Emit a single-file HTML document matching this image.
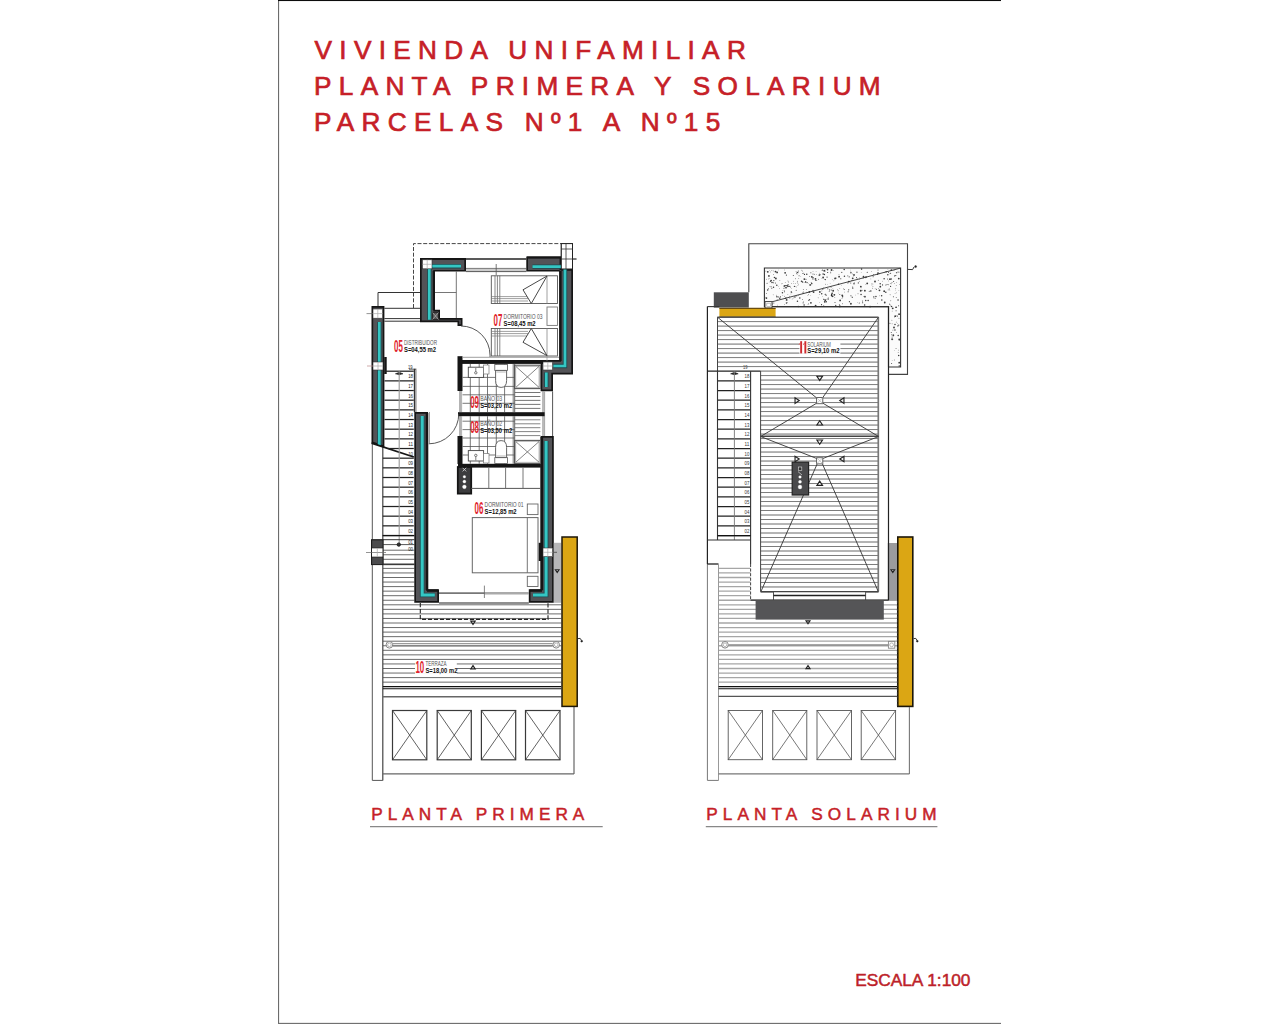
<!DOCTYPE html>
<html><head><meta charset="utf-8"><title>Planta primera y solarium</title>
<style>
html,body{margin:0;padding:0;background:#fff;}
body{width:1280px;height:1024px;overflow:hidden;position:relative;font-family:"Liberation Sans",sans-serif;}
svg{position:absolute;left:0;top:0;display:block;}
text{font-family:"Liberation Sans",sans-serif;}
</style></head><body>
<svg width="1280" height="1024" viewBox="0 0 1280 1024">
<rect x="0" y="0" width="1280" height="1024" fill="#fff" stroke="none" stroke-width="1"/>
<g id="frame">
<rect x="278" y="1" width="1.1" height="1023" fill="#6c6c6c" stroke="none" stroke-width="1"/>
<rect x="278" y="0" width="723" height="1.05" fill="#0c0c0c" stroke="none" stroke-width="1"/>
<rect x="278" y="1022.85" width="723" height="1.15" fill="#707070" stroke="none" stroke-width="1"/>
</g>
<g id="titles" fill="#c61f28">
<text x="314.6" y="58.6" font-size="26.2" fill="#c61f28" letter-spacing="7.3" stroke="#c61f28" stroke-width="0.7">VIVIENDA UNIFAMILIAR</text>
<text x="314" y="94.9" font-size="26.2" fill="#c61f28" letter-spacing="7.3" stroke="#c61f28" stroke-width="0.7">PLANTA PRIMERA Y SOLARIUM</text>
<text x="314" y="131.2" font-size="26.2" fill="#c61f28" letter-spacing="7.3" stroke="#c61f28" stroke-width="0.7">PARCELAS N&#186;1 A N&#186;15</text>
<text x="371.2" y="819.6" font-size="17.2" fill="#c61f28" letter-spacing="5.03" stroke="#c61f28" stroke-width="0.5">PLANTA PRIMERA</text>
<text x="706.3" y="819.6" font-size="17.2" fill="#c61f28" letter-spacing="5.08" stroke="#c61f28" stroke-width="0.5">PLANTA SOLARIUM</text>
<text x="855.2" y="986.3" font-size="17.3" fill="#bd1f29" stroke="#bd1f29" stroke-width="0.5">ESCALA 1:100</text>
</g>
<line x1="370" y1="826.7" x2="602.7" y2="826.7" stroke="#888" stroke-width="1.2"/>
<line x1="705.8" y1="826.7" x2="937.4" y2="826.7" stroke="#888" stroke-width="1.2"/>
<g id="planta-primera">
<line x1="383" y1="550.2" x2="414.4" y2="550.2" stroke="#6c6c6c" stroke-width="1"/>
<line x1="383" y1="554.75" x2="414.4" y2="554.75" stroke="#6c6c6c" stroke-width="1"/>
<line x1="383" y1="559.3" x2="414.4" y2="559.3" stroke="#6c6c6c" stroke-width="1"/>
<line x1="383" y1="563.85" x2="414.4" y2="563.85" stroke="#6c6c6c" stroke-width="1"/>
<line x1="383" y1="568.4" x2="414.4" y2="568.4" stroke="#6c6c6c" stroke-width="1"/>
<line x1="383" y1="572.95" x2="414.4" y2="572.95" stroke="#6c6c6c" stroke-width="1"/>
<line x1="383" y1="577.5" x2="414.4" y2="577.5" stroke="#6c6c6c" stroke-width="1"/>
<line x1="383" y1="582.05" x2="414.4" y2="582.05" stroke="#6c6c6c" stroke-width="1"/>
<line x1="383" y1="586.6" x2="414.4" y2="586.6" stroke="#6c6c6c" stroke-width="1"/>
<line x1="383" y1="591.15" x2="414.4" y2="591.15" stroke="#6c6c6c" stroke-width="1"/>
<line x1="383" y1="595.7" x2="414.4" y2="595.7" stroke="#6c6c6c" stroke-width="1"/>
<line x1="383" y1="600.25" x2="414.4" y2="600.25" stroke="#6c6c6c" stroke-width="1"/>
<line x1="383" y1="604.8" x2="561.3" y2="604.8" stroke="#6c6c6c" stroke-width="1"/>
<line x1="383" y1="609.35" x2="561.3" y2="609.35" stroke="#6c6c6c" stroke-width="1"/>
<line x1="383" y1="613.9" x2="561.3" y2="613.9" stroke="#6c6c6c" stroke-width="1"/>
<line x1="383" y1="618.45" x2="561.3" y2="618.45" stroke="#6c6c6c" stroke-width="1"/>
<line x1="383" y1="623" x2="561.3" y2="623" stroke="#6c6c6c" stroke-width="1"/>
<line x1="383" y1="627.55" x2="561.3" y2="627.55" stroke="#6c6c6c" stroke-width="1"/>
<line x1="383" y1="632.1" x2="561.3" y2="632.1" stroke="#6c6c6c" stroke-width="1"/>
<line x1="383" y1="636.65" x2="561.3" y2="636.65" stroke="#6c6c6c" stroke-width="1"/>
<line x1="383" y1="641.2" x2="561.3" y2="641.2" stroke="#6c6c6c" stroke-width="1"/>
<line x1="383" y1="645.75" x2="561.3" y2="645.75" stroke="#6c6c6c" stroke-width="1"/>
<line x1="383" y1="650.3" x2="561.3" y2="650.3" stroke="#6c6c6c" stroke-width="1"/>
<line x1="383" y1="654.85" x2="561.3" y2="654.85" stroke="#6c6c6c" stroke-width="1"/>
<line x1="383" y1="659.4" x2="561.3" y2="659.4" stroke="#6c6c6c" stroke-width="1"/>
<line x1="383" y1="663.95" x2="561.3" y2="663.95" stroke="#6c6c6c" stroke-width="1"/>
<line x1="383" y1="668.5" x2="561.3" y2="668.5" stroke="#6c6c6c" stroke-width="1"/>
<line x1="383" y1="673.05" x2="561.3" y2="673.05" stroke="#6c6c6c" stroke-width="1"/>
<line x1="383" y1="677.6" x2="561.3" y2="677.6" stroke="#6c6c6c" stroke-width="1"/>
<line x1="383" y1="682.15" x2="561.3" y2="682.15" stroke="#6c6c6c" stroke-width="1"/>
<line x1="372.3" y1="443" x2="372.3" y2="780.4" stroke="#555" stroke-width="1"/>
<line x1="382.8" y1="447" x2="382.8" y2="780.4" stroke="#444" stroke-width="1.2"/>
<line x1="372.3" y1="780.4" x2="382.8" y2="780.4" stroke="#555" stroke-width="1"/>
<line x1="382.8" y1="686.6" x2="561.3" y2="686.6" stroke="#111" stroke-width="1.3"/>
<line x1="382.8" y1="688.7" x2="561.3" y2="688.7" stroke="#111" stroke-width="1.1"/>
<line x1="382.8" y1="696.8" x2="561.5" y2="696.8" stroke="#666" stroke-width="1.6"/>
<line x1="382.8" y1="773.9" x2="574" y2="773.9" stroke="#666" stroke-width="1.3"/>
<line x1="574" y1="707" x2="574" y2="773.9" stroke="#666" stroke-width="1.2"/>
<rect x="392.5" y="710.5" width="34.3" height="49.3" fill="none" stroke="#3a3a3a" stroke-width="1.2"/>
<line x1="392.5" y1="710.5" x2="426.8" y2="759.8" stroke="#3a3a3a" stroke-width="0.8"/>
<line x1="392.5" y1="759.8" x2="426.8" y2="710.5" stroke="#3a3a3a" stroke-width="0.8"/>
<rect x="437.2" y="710.5" width="34.1" height="49.3" fill="none" stroke="#3a3a3a" stroke-width="1.2"/>
<line x1="437.2" y1="710.5" x2="471.3" y2="759.8" stroke="#3a3a3a" stroke-width="0.8"/>
<line x1="437.2" y1="759.8" x2="471.3" y2="710.5" stroke="#3a3a3a" stroke-width="0.8"/>
<rect x="481.4" y="710.5" width="34.3" height="49.3" fill="none" stroke="#3a3a3a" stroke-width="1.2"/>
<line x1="481.4" y1="710.5" x2="515.7" y2="759.8" stroke="#3a3a3a" stroke-width="0.8"/>
<line x1="481.4" y1="759.8" x2="515.7" y2="710.5" stroke="#3a3a3a" stroke-width="0.8"/>
<rect x="525.5" y="710.5" width="34.5" height="49.3" fill="none" stroke="#3a3a3a" stroke-width="1.2"/>
<line x1="525.5" y1="710.5" x2="560" y2="759.8" stroke="#3a3a3a" stroke-width="0.8"/>
<line x1="525.5" y1="759.8" x2="560" y2="710.5" stroke="#3a3a3a" stroke-width="0.8"/>
<path d="M413.5,308 L413.5,243.6 L561,243.6" fill="none" stroke="#3c3c3c" stroke-width="0.95" stroke-dasharray="4 1.7"/>
<rect x="561.3" y="243.6" width="11.2" height="25.4" fill="#fff" stroke="#222" stroke-width="1"/>
<line x1="566" y1="243.6" x2="566" y2="269" stroke="#333" stroke-width="0.8"/>
<line x1="561.3" y1="249" x2="572.5" y2="249" stroke="#333" stroke-width="0.8"/>
<line x1="561.3" y1="259" x2="576.5" y2="259" stroke="#333" stroke-width="0.8"/>
<line x1="378" y1="292.5" x2="420" y2="292.5" stroke="#333" stroke-width="1"/>
<line x1="378" y1="292.5" x2="378" y2="306" stroke="#333" stroke-width="1"/>
<line x1="384.4" y1="308.3" x2="420" y2="308.3" stroke="#333" stroke-width="1"/>
<line x1="384.4" y1="318.6" x2="420" y2="318.6" stroke="#333" stroke-width="1"/>
<line x1="384.4" y1="321.2" x2="420" y2="321.2" stroke="#333" stroke-width="1"/>
<line x1="466" y1="259" x2="526.3" y2="259" stroke="#222" stroke-width="1.4"/>
<line x1="466" y1="268.4" x2="526.3" y2="268.4" stroke="#777" stroke-width="1"/>
<line x1="466" y1="270" x2="526.3" y2="270" stroke="#999" stroke-width="1"/>
<line x1="466" y1="271.6" x2="526.3" y2="271.6" stroke="#555" stroke-width="1"/>
<line x1="496.2" y1="264" x2="496.2" y2="275" stroke="#555" stroke-width="0.8"/>
<line x1="456.3" y1="271.6" x2="456.3" y2="318.5" stroke="#666" stroke-width="0.9"/>
<line x1="435" y1="292.5" x2="456.3" y2="292.5" stroke="#666" stroke-width="0.9"/>
<path d="M420,258 L466,258 L466,271.6 L435,271.6 L435,309.8 L440,309.8 L440,318 L462.5,318 L462.5,326 L457.5,326 L457.5,322.3 L420,322.3 Z" fill="#151515" stroke="none" stroke-width="1"/>
<path d="M421.7,259.7 L464.3,259.7 L464.3,269.9 L433.3,269.9 L433.3,311.5 L438.3,311.5 L438.3,319.7 L460.8,319.7 L460.8,324.3 L459.2,324.3 L459.2,320.6 L421.7,320.6 Z" fill="#535357" stroke="none" stroke-width="1"/>
<line x1="433.8" y1="271" x2="433.8" y2="310" stroke="#151515" stroke-width="2.2"/>
<line x1="421" y1="259" x2="465" y2="259" stroke="#151515" stroke-width="2"/>
<path d="M461,266.2 L429.3,266.2 L429.3,319.8" fill="none" stroke="#1d4a50" stroke-width="4.4" stroke-linejoin="miter"/>
<path d="M461,266.2 L429.3,266.2 L429.3,319.8" fill="none" stroke="#34c6c3" stroke-width="2.7" stroke-linejoin="miter"/>
<rect x="422.5" y="259.8" width="9.5" height="9" fill="#fff" stroke="#333" stroke-width="0.6"/>
<line x1="427.2" y1="259.8" x2="427.2" y2="268.8" stroke="#aaa" stroke-width="0.7"/>
<line x1="422.5" y1="264.3" x2="432" y2="264.3" stroke="#aaa" stroke-width="0.7"/>
<rect x="432.5" y="312.5" width="6" height="7" fill="#555" stroke="#111" stroke-width="0.6"/>
<line x1="432.5" y1="312.5" x2="438.5" y2="319.5" stroke="#ccc" stroke-width="0.6"/>
<line x1="438.5" y1="312.5" x2="432.5" y2="319.5" stroke="#ccc" stroke-width="0.6"/>
<path d="M526.3,256.6 L561.3,256.6 L561.3,269 L573,269 L573,374.4 L553,374.4 L553,391.3 L540.6,391.3 L540.6,360 L559.4,360 L559.4,271.6 L526.3,271.6 Z" fill="#151515" stroke="none" stroke-width="1"/>
<path d="M528,258.3 L559.6,258.3 L559.6,270.7 L571.3,270.7 L571.3,372.7 L551.3,372.7 L551.3,389.6 L542.3,389.6 L542.3,361.7 L561.1,361.7 L561.1,269.9 L528,269.9 Z" fill="#535357" stroke="none" stroke-width="1"/>
<line x1="560.4" y1="271" x2="560.4" y2="361" stroke="#151515" stroke-width="2.4"/>
<line x1="527" y1="257.6" x2="561" y2="257.6" stroke="#151515" stroke-width="2"/>
<path d="M532.5,266.6 L565,266.6 L565,366 L553.4,366" fill="none" stroke="#1d4a50" stroke-width="4.4" stroke-linejoin="miter"/>
<path d="M532.5,266.6 L565,266.6 L565,366 L553.4,366" fill="none" stroke="#34c6c3" stroke-width="2.7" stroke-linejoin="miter"/>
<path d="M546.3,372.5 L546.3,387" fill="none" stroke="#1d4a50" stroke-width="4.4" stroke-linejoin="miter"/>
<path d="M546.3,372.5 L546.3,387" fill="none" stroke="#34c6c3" stroke-width="2.7" stroke-linejoin="miter"/>
<rect x="561.3" y="243.6" width="11.2" height="25.4" fill="#fff" stroke="#222" stroke-width="1"/>
<line x1="566" y1="243.6" x2="566" y2="269" stroke="#333" stroke-width="0.8"/>
<line x1="561.3" y1="249" x2="572.5" y2="249" stroke="#333" stroke-width="0.8"/>
<line x1="561.3" y1="259" x2="576.5" y2="259" stroke="#333" stroke-width="0.8"/>
<rect x="543" y="362" width="9.5" height="8" fill="#fff" stroke="#333" stroke-width="0.6"/>
<line x1="547.8" y1="362" x2="547.8" y2="370" stroke="#aaa" stroke-width="0.7"/>
<line x1="543" y1="366" x2="552.5" y2="366" stroke="#aaa" stroke-width="0.7"/>
<line x1="543" y1="391.3" x2="543" y2="436" stroke="#666" stroke-width="0.9"/>
<line x1="544.6" y1="391.3" x2="544.6" y2="436" stroke="#999" stroke-width="0.9"/>
<line x1="552.6" y1="391.3" x2="552.6" y2="436" stroke="#555" stroke-width="1"/>
<path d="M371.5,306 L384.4,306 L384.4,447.5 L371.5,443 Z" fill="#151515" stroke="none" stroke-width="1"/>
<path d="M373.2,307.7 L382.7,307.7 L382.7,445.11 L373.2,441.79 Z" fill="#535357" stroke="none" stroke-width="1"/>
<rect x="384.2" y="357" width="2.5" height="17" fill="#151515" stroke="none" stroke-width="1"/>
<path d="M379.3,322 L379.3,445.3" fill="none" stroke="#1d4a50" stroke-width="4.4" stroke-linejoin="miter"/>
<path d="M379.3,322 L379.3,445.3" fill="none" stroke="#34c6c3" stroke-width="2.7" stroke-linejoin="miter"/>
<rect x="373" y="309" width="9.6" height="9.2" fill="#fff" stroke="#333" stroke-width="0.6"/>
<line x1="377.8" y1="309" x2="377.8" y2="318.2" stroke="#aaa" stroke-width="0.7"/>
<line x1="373" y1="313.6" x2="382.6" y2="313.6" stroke="#aaa" stroke-width="0.7"/>
<line x1="366.5" y1="313.6" x2="373" y2="313.6" stroke="#666" stroke-width="0.7"/>
<rect x="373" y="362" width="10" height="8" fill="#fff" stroke="#333" stroke-width="0.6"/>
<line x1="378" y1="362" x2="378" y2="370" stroke="#aaa" stroke-width="0.7"/>
<line x1="373" y1="366" x2="383" y2="366" stroke="#aaa" stroke-width="0.7"/>
<line x1="367" y1="366" x2="373" y2="366" stroke="#b88" stroke-width="0.7"/>
<line x1="371.5" y1="443.2" x2="413.8" y2="457" stroke="#151515" stroke-width="1.8"/>
<line x1="384.5" y1="371.2" x2="413.8" y2="371.2" stroke="#222" stroke-width="1.25"/>
<line x1="384.5" y1="380.87" x2="413.8" y2="380.87" stroke="#222" stroke-width="1.25"/>
<line x1="384.5" y1="390.53" x2="413.8" y2="390.53" stroke="#222" stroke-width="1.25"/>
<line x1="384.5" y1="400.19" x2="413.8" y2="400.19" stroke="#222" stroke-width="1.25"/>
<line x1="384.5" y1="409.86" x2="413.8" y2="409.86" stroke="#222" stroke-width="1.25"/>
<line x1="384.5" y1="419.52" x2="413.8" y2="419.52" stroke="#222" stroke-width="1.25"/>
<line x1="384.5" y1="429.19" x2="413.8" y2="429.19" stroke="#222" stroke-width="1.25"/>
<line x1="384.5" y1="438.86" x2="413.8" y2="438.86" stroke="#222" stroke-width="1.25"/>
<line x1="387.82" y1="448.52" x2="413.8" y2="448.52" stroke="#222" stroke-width="1.25"/>
<line x1="382.8" y1="458.18" x2="413.8" y2="458.18" stroke="#222" stroke-width="1.25"/>
<line x1="382.8" y1="467.85" x2="413.8" y2="467.85" stroke="#222" stroke-width="1.25"/>
<line x1="382.8" y1="477.51" x2="413.8" y2="477.51" stroke="#222" stroke-width="1.25"/>
<line x1="382.8" y1="487.18" x2="413.8" y2="487.18" stroke="#222" stroke-width="1.25"/>
<line x1="382.8" y1="496.84" x2="413.8" y2="496.84" stroke="#222" stroke-width="1.25"/>
<line x1="382.8" y1="506.51" x2="413.8" y2="506.51" stroke="#222" stroke-width="1.25"/>
<line x1="382.8" y1="516.17" x2="413.8" y2="516.17" stroke="#222" stroke-width="1.25"/>
<line x1="382.8" y1="525.84" x2="413.8" y2="525.84" stroke="#222" stroke-width="1.25"/>
<line x1="382.8" y1="535.5" x2="413.8" y2="535.5" stroke="#222" stroke-width="1.25"/>
<line x1="399.2" y1="371.2" x2="399.2" y2="544.6" stroke="#999" stroke-width="1.1"/>
<path d="M395.4,373.8 L398.6,372.6 L398.6,374.6 Z M403,373.8 L399.8,372.6 L399.8,374.6 Z" fill="#222" stroke="#222" stroke-width="0.6"/>
<line x1="414.6" y1="368.8" x2="414.6" y2="412" stroke="#333" stroke-width="1.6"/>
<line x1="416" y1="370" x2="416" y2="412" stroke="#999" stroke-width="1.2"/>
<line x1="409" y1="369.2" x2="416.5" y2="369.2" stroke="#333" stroke-width="0.8"/>
<line x1="382.8" y1="535.6" x2="414.4" y2="535.6" stroke="#111" stroke-width="1.4"/>
<line x1="382.8" y1="539.7" x2="414.4" y2="539.7" stroke="#333" stroke-width="1"/>
<line x1="383" y1="544.6" x2="414.4" y2="544.6" stroke="#555" stroke-width="1"/>
<circle cx="398.8" cy="544.6" r="1.7" fill="#333" stroke="#111" stroke-width="0.8"/>
<text x="412.6" y="369.4" font-size="5.6" fill="#333" textLength="4.6" lengthAdjust="spacingAndGlyphs" text-anchor="end">19</text>
<text x="413" y="378.4" font-size="5.8" fill="#222" textLength="4.8" lengthAdjust="spacingAndGlyphs" text-anchor="end">18</text>
<text x="413" y="388.06" font-size="5.8" fill="#222" textLength="4.8" lengthAdjust="spacingAndGlyphs" text-anchor="end">17</text>
<text x="413" y="397.73" font-size="5.8" fill="#222" textLength="4.8" lengthAdjust="spacingAndGlyphs" text-anchor="end">16</text>
<text x="413" y="407.39" font-size="5.8" fill="#222" textLength="4.8" lengthAdjust="spacingAndGlyphs" text-anchor="end">15</text>
<text x="413" y="417.06" font-size="5.8" fill="#222" textLength="4.8" lengthAdjust="spacingAndGlyphs" text-anchor="end">14</text>
<text x="413" y="426.72" font-size="5.8" fill="#222" textLength="4.8" lengthAdjust="spacingAndGlyphs" text-anchor="end">13</text>
<text x="413" y="436.39" font-size="5.8" fill="#222" textLength="4.8" lengthAdjust="spacingAndGlyphs" text-anchor="end">12</text>
<text x="413" y="446.05" font-size="5.8" fill="#222" textLength="4.8" lengthAdjust="spacingAndGlyphs" text-anchor="end">11</text>
<text x="413" y="455.72" font-size="5.8" fill="#222" textLength="4.8" lengthAdjust="spacingAndGlyphs" text-anchor="end">10</text>
<text x="413" y="465.38" font-size="5.8" fill="#222" textLength="4.8" lengthAdjust="spacingAndGlyphs" text-anchor="end">09</text>
<text x="413" y="475.05" font-size="5.8" fill="#222" textLength="4.8" lengthAdjust="spacingAndGlyphs" text-anchor="end">08</text>
<text x="413" y="484.71" font-size="5.8" fill="#222" textLength="4.8" lengthAdjust="spacingAndGlyphs" text-anchor="end">07</text>
<text x="413" y="494.38" font-size="5.8" fill="#222" textLength="4.8" lengthAdjust="spacingAndGlyphs" text-anchor="end">06</text>
<text x="413" y="504.04" font-size="5.8" fill="#222" textLength="4.8" lengthAdjust="spacingAndGlyphs" text-anchor="end">05</text>
<text x="413" y="513.71" font-size="5.8" fill="#222" textLength="4.8" lengthAdjust="spacingAndGlyphs" text-anchor="end">04</text>
<text x="413" y="523.38" font-size="5.8" fill="#222" textLength="4.8" lengthAdjust="spacingAndGlyphs" text-anchor="end">03</text>
<text x="413" y="533.04" font-size="5.8" fill="#222" textLength="4.8" lengthAdjust="spacingAndGlyphs" text-anchor="end">02</text>
<text x="413" y="543.8" font-size="5.8" fill="#222" textLength="4.8" lengthAdjust="spacingAndGlyphs" text-anchor="end">01</text>
<text x="413" y="550.9" font-size="5.8" fill="#222" textLength="4.8" lengthAdjust="spacingAndGlyphs" text-anchor="end">00</text>
<rect x="371.5" y="539.7" width="11.5" height="24.9" fill="#fff" stroke="#222" stroke-width="1"/>
<rect x="371.8" y="540" width="11" height="8" fill="#4c4c4e" stroke="#111" stroke-width="0.6"/>
<rect x="371.8" y="557" width="11" height="7.4" fill="#4c4c4e" stroke="#111" stroke-width="0.6"/>
<line x1="366" y1="552.5" x2="386" y2="552.5" stroke="#666" stroke-width="0.7"/>
<line x1="377.3" y1="548" x2="377.3" y2="557" stroke="#aaa" stroke-width="0.7"/>
<line x1="383" y1="564.6" x2="414.4" y2="564.6" stroke="#333" stroke-width="1.1"/>
<path d="M414.3,412 L428,412 L428,589.2 L439,589.2 L439,602.8 L414.3,602.8 Z" fill="#151515" stroke="none" stroke-width="1"/>
<path d="M416,413.7 L426.3,413.7 L426.3,590.9 L437.3,590.9 L437.3,601.1 L416,601.1 Z" fill="#535357" stroke="none" stroke-width="1"/>
<line x1="427" y1="413" x2="427" y2="590" stroke="#151515" stroke-width="2.6"/>
<line x1="427" y1="590.6" x2="438" y2="590.6" stroke="#151515" stroke-width="2.4"/>
<path d="M422.2,416 L422.2,595 L434.8,595" fill="none" stroke="#1d4a50" stroke-width="4.7" stroke-linejoin="miter"/>
<path d="M422.2,416 L422.2,595 L434.8,595" fill="none" stroke="#34c6c3" stroke-width="3" stroke-linejoin="miter"/>
<path d="M540.6,436 L553.8,436 L553.8,602.8 L528.8,602.8 L528.8,589.2 L540.6,589.2 Z" fill="#151515" stroke="none" stroke-width="1"/>
<path d="M542.3,437.7 L552.1,437.7 L552.1,601.1 L530.5,601.1 L530.5,590.9 L542.3,590.9 Z" fill="#535357" stroke="none" stroke-width="1"/>
<line x1="541.8" y1="437" x2="541.8" y2="590" stroke="#151515" stroke-width="2.6"/>
<line x1="529.8" y1="590.6" x2="542" y2="590.6" stroke="#151515" stroke-width="2.4"/>
<path d="M546.1,441 L546.1,595 L533,595" fill="none" stroke="#1d4a50" stroke-width="4.7" stroke-linejoin="miter"/>
<path d="M546.1,441 L546.1,595 L533,595" fill="none" stroke="#34c6c3" stroke-width="3" stroke-linejoin="miter"/>
<rect x="538.6" y="542.8" width="2.6" height="18.2" fill="#151515" stroke="none" stroke-width="1"/>
<rect x="543" y="548" width="9.6" height="8.6" fill="#fff" stroke="#333" stroke-width="0.6"/>
<line x1="547.8" y1="548" x2="547.8" y2="556.6" stroke="#aaa" stroke-width="0.7"/>
<line x1="543" y1="552.3" x2="552.6" y2="552.3" stroke="#aaa" stroke-width="0.7"/>
<rect x="553.8" y="542.8" width="7.5" height="60" fill="#b6b6b8" stroke="none" stroke-width="1"/>
<line x1="553.8" y1="552.3" x2="557" y2="552.3" stroke="#333" stroke-width="0.7"/>
<path d="M555.4,569.74 L559,569.74 L557.2,572.44 Z" fill="#f4f4f4" stroke="#222" stroke-width="1.15"/>
<rect x="562" y="537" width="15.2" height="169.4" fill="#dba614" stroke="#1c1608" stroke-width="1.5"/>
<path d="M578,638.6 L580.2,638.4 L581.4,640.4" fill="none" stroke="#222" stroke-width="0.9"/>
<circle cx="581.7" cy="641.2" r="0.9" fill="#222" stroke="#222" stroke-width="0.5"/>
<rect x="458" y="360" width="85" height="3.9" fill="#151515" stroke="none" stroke-width="1"/>
<rect x="457.5" y="356.2" width="5" height="34.8" fill="#151515" stroke="none" stroke-width="1"/>
<line x1="460" y1="391" x2="460" y2="412" stroke="#555" stroke-width="0.9"/>
<line x1="461.6" y1="391" x2="461.6" y2="412" stroke="#999" stroke-width="0.8"/>
<rect x="458" y="412.2" width="86.6" height="4" fill="#151515" stroke="none" stroke-width="1"/>
<line x1="460" y1="416" x2="460" y2="436" stroke="#555" stroke-width="0.9"/>
<line x1="461.6" y1="416" x2="461.6" y2="436" stroke="#999" stroke-width="0.8"/>
<rect x="457.5" y="436" width="5" height="28" fill="#151515" stroke="none" stroke-width="1"/>
<rect x="458" y="463.8" width="82.8" height="3.8" fill="#151515" stroke="none" stroke-width="1"/>
<line x1="462.5" y1="357.3" x2="559" y2="357.3" stroke="#888" stroke-width="0.8"/>
<line x1="470.3" y1="364" x2="470.3" y2="412" stroke="#555" stroke-width="0.8"/>
<line x1="470.3" y1="416.2" x2="470.3" y2="463.8" stroke="#555" stroke-width="0.8"/>
<line x1="479.2" y1="364" x2="479.2" y2="412" stroke="#555" stroke-width="0.8"/>
<line x1="479.2" y1="416.2" x2="479.2" y2="463.8" stroke="#555" stroke-width="0.8"/>
<line x1="487.5" y1="364" x2="487.5" y2="412" stroke="#555" stroke-width="0.8"/>
<line x1="487.5" y1="416.2" x2="487.5" y2="463.8" stroke="#555" stroke-width="0.8"/>
<line x1="496.3" y1="364" x2="496.3" y2="412" stroke="#555" stroke-width="0.8"/>
<line x1="496.3" y1="416.2" x2="496.3" y2="463.8" stroke="#555" stroke-width="0.8"/>
<line x1="504.6" y1="364" x2="504.6" y2="412" stroke="#555" stroke-width="0.8"/>
<line x1="504.6" y1="416.2" x2="504.6" y2="463.8" stroke="#555" stroke-width="0.8"/>
<line x1="513.2" y1="364" x2="513.2" y2="412" stroke="#555" stroke-width="0.8"/>
<line x1="513.2" y1="416.2" x2="513.2" y2="463.8" stroke="#555" stroke-width="0.8"/>
<line x1="462.5" y1="377.4" x2="514.6" y2="377.4" stroke="#555" stroke-width="0.8"/>
<line x1="462.5" y1="386.4" x2="514.6" y2="386.4" stroke="#555" stroke-width="0.8"/>
<line x1="462.5" y1="394.8" x2="514.6" y2="394.8" stroke="#555" stroke-width="0.8"/>
<line x1="462.5" y1="403.3" x2="514.6" y2="403.3" stroke="#555" stroke-width="0.8"/>
<line x1="462.5" y1="421.2" x2="514.6" y2="421.2" stroke="#555" stroke-width="0.8"/>
<line x1="462.5" y1="429.6" x2="514.6" y2="429.6" stroke="#555" stroke-width="0.8"/>
<line x1="462.5" y1="438" x2="514.6" y2="438" stroke="#555" stroke-width="0.8"/>
<line x1="462.5" y1="446.5" x2="514.6" y2="446.5" stroke="#555" stroke-width="0.8"/>
<line x1="462.5" y1="455" x2="514.6" y2="455" stroke="#555" stroke-width="0.8"/>
<rect x="468.3" y="367.2" width="15.3" height="10.2" fill="#fff" stroke="#444" stroke-width="0.9"/>
<circle cx="475.8" cy="372.8" r="1.2" fill="none" stroke="#444" stroke-width="0.7"/>
<line x1="475.8" y1="368" x2="475.8" y2="371.5" stroke="#444" stroke-width="0.7"/>
<rect x="483.6" y="365" width="5.4" height="9" fill="#fff" stroke="#777" stroke-width="0.7"/>
<rect x="494.8" y="364.4" width="12.6" height="6" fill="#fff" stroke="#555" stroke-width="0.8"/>
<path d="M495.6,370.4 L495.6,380.5 Q495.6,387.4 501.1,387.4 Q506.6,387.4 506.6,380.5 L506.6,370.4 Z" fill="#fff" stroke="#555" stroke-width="0.9"/>
<line x1="496.4" y1="372" x2="505.8" y2="372" stroke="#999" stroke-width="0.7"/>
<rect x="514.6" y="365.2" width="25.6" height="23.4" fill="#fff" stroke="#555" stroke-width="1.1"/>
<rect x="515.8" y="366.4" width="23.2" height="21" fill="none" stroke="#999" stroke-width="0.6"/>
<line x1="515.8" y1="366.4" x2="539" y2="387.4" stroke="#666" stroke-width="0.8"/>
<line x1="515.8" y1="387.4" x2="539" y2="366.4" stroke="#666" stroke-width="0.8"/>
<line x1="514.8" y1="392.5" x2="540.4" y2="392.5" stroke="#666" stroke-width="0.9"/>
<line x1="514.8" y1="396.5" x2="540.4" y2="396.5" stroke="#666" stroke-width="0.9"/>
<line x1="514.8" y1="400.4" x2="540.4" y2="400.4" stroke="#666" stroke-width="0.9"/>
<line x1="514.8" y1="404.4" x2="540.4" y2="404.4" stroke="#666" stroke-width="0.9"/>
<line x1="514.8" y1="408.4" x2="540.4" y2="408.4" stroke="#666" stroke-width="0.9"/>
<line x1="514.7" y1="364" x2="514.7" y2="412" stroke="#555" stroke-width="0.9"/>
<rect x="468.3" y="450.6" width="15.3" height="10.4" fill="#fff" stroke="#444" stroke-width="0.9"/>
<circle cx="475.8" cy="455.4" r="1.2" fill="none" stroke="#444" stroke-width="0.7"/>
<line x1="475.8" y1="456.8" x2="475.8" y2="460.4" stroke="#444" stroke-width="0.7"/>
<rect x="483.6" y="453.6" width="5.4" height="9.4" fill="#fff" stroke="#777" stroke-width="0.7"/>
<rect x="494.8" y="457.6" width="12.6" height="5.8" fill="#fff" stroke="#555" stroke-width="0.8"/>
<path d="M495.6,457.6 L495.6,447.4 Q495.6,440.6 501.1,440.6 Q506.6,440.6 506.6,447.4 L506.6,457.6 Z" fill="#fff" stroke="#555" stroke-width="0.9"/>
<line x1="496.4" y1="456" x2="505.8" y2="456" stroke="#999" stroke-width="0.7"/>
<rect x="514.6" y="440.4" width="25.6" height="23" fill="#fff" stroke="#555" stroke-width="1.1"/>
<rect x="515.8" y="441.6" width="23.2" height="20.6" fill="none" stroke="#999" stroke-width="0.6"/>
<line x1="515.8" y1="441.6" x2="539" y2="462.2" stroke="#666" stroke-width="0.8"/>
<line x1="515.8" y1="462.2" x2="539" y2="441.6" stroke="#666" stroke-width="0.8"/>
<line x1="514.8" y1="419.8" x2="540.4" y2="419.8" stroke="#777" stroke-width="0.9"/>
<line x1="514.8" y1="423.8" x2="540.4" y2="423.8" stroke="#777" stroke-width="0.9"/>
<line x1="514.8" y1="427.7" x2="540.4" y2="427.7" stroke="#777" stroke-width="0.9"/>
<line x1="514.8" y1="431.6" x2="540.4" y2="431.6" stroke="#777" stroke-width="0.9"/>
<line x1="514.8" y1="435.6" x2="540.4" y2="435.6" stroke="#777" stroke-width="0.9"/>
<line x1="514.7" y1="416.2" x2="514.7" y2="463.8" stroke="#555" stroke-width="0.9"/>
<rect x="457.8" y="467" width="13.4" height="26.6" fill="#3c3c3e" stroke="#151515" stroke-width="1.8"/>
<path d="M462.6,467.8 L466.2,471.4 M466.2,467.8 L462.6,471.4" fill="none" stroke="#ddd" stroke-width="0.8"/>
<circle cx="464.4" cy="476.8" r="1.3" fill="#fff" stroke="#fff" stroke-width="0.3"/>
<circle cx="464.4" cy="481.6" r="1.5" fill="#fff" stroke="#fff" stroke-width="0.3"/>
<circle cx="464.4" cy="486.8" r="1.9" fill="#fff" stroke="#fff" stroke-width="0.3"/>
<line x1="471.2" y1="488.4" x2="540.6" y2="488.4" stroke="#555" stroke-width="1"/>
<line x1="488.8" y1="467.6" x2="488.8" y2="488.4" stroke="#666" stroke-width="0.9"/>
<line x1="505.6" y1="467.6" x2="505.6" y2="488.4" stroke="#666" stroke-width="0.9"/>
<line x1="523" y1="467.6" x2="523" y2="488.4" stroke="#666" stroke-width="0.9"/>
<rect x="472.3" y="517.6" width="65.7" height="55.2" fill="#fff" stroke="#666" stroke-width="1"/>
<line x1="527.3" y1="517.6" x2="527.3" y2="572.8" stroke="#666" stroke-width="0.9"/>
<rect x="527.3" y="504" width="10.7" height="10.6" fill="#fff" stroke="#666" stroke-width="0.9"/>
<rect x="527.3" y="576.3" width="10.7" height="10.2" fill="#fff" stroke="#666" stroke-width="0.9"/>
<rect x="491.3" y="275.8" width="66.2" height="27.7" fill="#fff" stroke="#555" stroke-width="0.9"/>
<line x1="547" y1="275.8" x2="547" y2="303.5" stroke="#888" stroke-width="0.8"/>
<line x1="495" y1="275.8" x2="495" y2="303.5" stroke="#555" stroke-width="0.7"/>
<line x1="497.4" y1="275.8" x2="497.4" y2="303.5" stroke="#555" stroke-width="0.7"/>
<line x1="499.8" y1="275.8" x2="499.8" y2="303.5" stroke="#555" stroke-width="0.7"/>
<line x1="491.3" y1="296.6" x2="528" y2="296.6" stroke="#777" stroke-width="0.7"/>
<line x1="491.3" y1="298.6" x2="528" y2="298.6" stroke="#777" stroke-width="0.7"/>
<line x1="491.3" y1="301" x2="528" y2="301" stroke="#777" stroke-width="0.7"/>
<path d="M547,276 L523,289.8 L531.3,303.5 Z" fill="#fff" stroke="#333" stroke-width="0.9"/>
<rect x="547" y="307" width="10.5" height="18.4" fill="#fff" stroke="#777" stroke-width="0.9"/>
<rect x="491.3" y="328.5" width="66.2" height="27.5" fill="#fff" stroke="#555" stroke-width="0.9"/>
<line x1="547" y1="328.5" x2="547" y2="356" stroke="#888" stroke-width="0.8"/>
<line x1="495" y1="328.5" x2="495" y2="356" stroke="#555" stroke-width="0.7"/>
<line x1="497.4" y1="328.5" x2="497.4" y2="356" stroke="#555" stroke-width="0.7"/>
<line x1="499.8" y1="328.5" x2="499.8" y2="356" stroke="#555" stroke-width="0.7"/>
<line x1="491.3" y1="331.4" x2="528" y2="331.4" stroke="#777" stroke-width="0.7"/>
<line x1="491.3" y1="333.6" x2="528" y2="333.6" stroke="#777" stroke-width="0.7"/>
<line x1="491.3" y1="336" x2="528" y2="336" stroke="#777" stroke-width="0.7"/>
<path d="M531.3,328.5 L523,342.3 L547,355.6 Z" fill="#fff" stroke="#333" stroke-width="0.9"/>
<line x1="547" y1="355.6" x2="547" y2="361" stroke="#888" stroke-width="0.6"/>
<path d="M461,326 A29,29 0 0 1 490,355" fill="none" stroke="#444" stroke-width="0.9"/>
<line x1="490" y1="355" x2="490" y2="357" stroke="#444" stroke-width="0.8"/>
<path d="M428.8,443.8 A30,30 0 0 0 458.8,413.8" fill="none" stroke="#444" stroke-width="0.9"/>
<line x1="429.4" y1="412" x2="429.4" y2="443.8" stroke="#777" stroke-width="0.8"/>
<line x1="439" y1="593.2" x2="528.8" y2="593.2" stroke="#777" stroke-width="1.8"/>
<line x1="484.4" y1="593.2" x2="528.8" y2="593.2" stroke="#aaa" stroke-width="2.6"/>
<line x1="439" y1="603" x2="528.8" y2="603" stroke="#222" stroke-width="1.1"/>
<line x1="484.4" y1="585.6" x2="484.4" y2="598" stroke="#666" stroke-width="0.8"/>
<path d="M420.3,603 L420.3,619.4 L548,619.4 L548,603" fill="none" stroke="#222" stroke-width="1.1" stroke-dasharray="4.2 1.8"/>
<path d="M470.8,621.06 L475.2,621.06 L473,624.36 Z" fill="#f4f4f4" stroke="#222" stroke-width="1.15"/>
<path d="M470.8,668.94 L475.2,668.94 L473,665.64 Z" fill="#f4f4f4" stroke="#222" stroke-width="1.15"/>
<line x1="393" y1="643.7" x2="552.6" y2="643.7" stroke="#777" stroke-width="0.9"/>
<line x1="393" y1="646" x2="552.6" y2="646" stroke="#777" stroke-width="0.9"/>
<circle cx="389.4" cy="644.8" r="3.3" fill="#fff" stroke="#777" stroke-width="0.9"/>
<circle cx="389.4" cy="644.8" r="1.8" fill="none" stroke="#999" stroke-width="0.7"/>
<circle cx="556.2" cy="644.8" r="3.3" fill="#fff" stroke="#777" stroke-width="0.9"/>
<circle cx="556.2" cy="644.8" r="1.8" fill="none" stroke="#999" stroke-width="0.7"/>
<text x="394" y="351.6" font-size="16.6" fill="#e0242c" font-weight="bold" textLength="8.8" lengthAdjust="spacingAndGlyphs">05</text>
<text x="404" y="344.8" font-size="6.6" fill="#555" textLength="33" lengthAdjust="spacingAndGlyphs">DISTRIBUIDOR</text>
<text x="404" y="351.8" font-size="7" fill="#111" font-weight="bold" textLength="32" lengthAdjust="spacingAndGlyphs">S=04,55 m2</text>
<text x="493.6" y="325.8" font-size="16.6" fill="#e0242c" font-weight="bold" textLength="8.8" lengthAdjust="spacingAndGlyphs">07</text>
<text x="503.6" y="319" font-size="6.6" fill="#555" textLength="38.8" lengthAdjust="spacingAndGlyphs">DORMITORIO 03</text>
<text x="503.6" y="326" font-size="7" fill="#111" font-weight="bold" textLength="32" lengthAdjust="spacingAndGlyphs">S=08,45 m2</text>
<text x="470.2" y="407.8" font-size="16.6" fill="#e0242c" font-weight="bold" textLength="8.8" lengthAdjust="spacingAndGlyphs">09</text>
<text x="480.2" y="401" font-size="6.6" fill="#555" textLength="22" lengthAdjust="spacingAndGlyphs">BA&#209;O 03</text>
<text x="480.2" y="408" font-size="7" fill="#111" font-weight="bold" textLength="32" lengthAdjust="spacingAndGlyphs">S=03,20 m2</text>
<text x="470.2" y="432.8" font-size="16.6" fill="#e0242c" font-weight="bold" textLength="8.8" lengthAdjust="spacingAndGlyphs">08</text>
<text x="480.2" y="426" font-size="6.6" fill="#555" textLength="22" lengthAdjust="spacingAndGlyphs">BA&#209;O 02</text>
<text x="480.2" y="433" font-size="7" fill="#111" font-weight="bold" textLength="32" lengthAdjust="spacingAndGlyphs">S=03,50 m2</text>
<text x="474.6" y="514" font-size="16.6" fill="#e0242c" font-weight="bold" textLength="8.8" lengthAdjust="spacingAndGlyphs">06</text>
<text x="484.6" y="507.2" font-size="6.6" fill="#555" textLength="39" lengthAdjust="spacingAndGlyphs">DORMITORIO 01</text>
<text x="484.6" y="514.2" font-size="7" fill="#111" font-weight="bold" textLength="32" lengthAdjust="spacingAndGlyphs">S=12,85 m2</text>
<rect x="415" y="660.4" width="41.8" height="13.5" fill="#fff" stroke="none" stroke-width="1"/>
<text x="415.4" y="673" font-size="16.6" fill="#e0242c" font-weight="bold" textLength="8.8" lengthAdjust="spacingAndGlyphs">10</text>
<text x="425.4" y="666.2" font-size="6.6" fill="#555" textLength="21" lengthAdjust="spacingAndGlyphs">TERRAZA</text>
<text x="425.4" y="673.2" font-size="7" fill="#111" font-weight="bold" textLength="32" lengthAdjust="spacingAndGlyphs">S=18,00 m2</text>
</g>
<g id="planta-solarium">
<line x1="718.5" y1="568.4" x2="750.6" y2="568.4" stroke="#a6a6a6" stroke-width="1.3"/>
<line x1="718.5" y1="572.95" x2="750.6" y2="572.95" stroke="#a6a6a6" stroke-width="1.3"/>
<line x1="718.5" y1="577.5" x2="750.6" y2="577.5" stroke="#a6a6a6" stroke-width="1.3"/>
<line x1="718.5" y1="582.05" x2="750.6" y2="582.05" stroke="#a6a6a6" stroke-width="1.3"/>
<line x1="718.5" y1="586.6" x2="750.6" y2="586.6" stroke="#a6a6a6" stroke-width="1.3"/>
<line x1="718.5" y1="591.15" x2="750.6" y2="591.15" stroke="#a6a6a6" stroke-width="1.3"/>
<line x1="718.5" y1="595.7" x2="750.6" y2="595.7" stroke="#a6a6a6" stroke-width="1.3"/>
<line x1="718.5" y1="600.25" x2="897" y2="600.25" stroke="#a6a6a6" stroke-width="1.3"/>
<line x1="718.5" y1="604.8" x2="897" y2="604.8" stroke="#a6a6a6" stroke-width="1.3"/>
<line x1="718.5" y1="609.35" x2="897" y2="609.35" stroke="#a6a6a6" stroke-width="1.3"/>
<line x1="718.5" y1="613.9" x2="897" y2="613.9" stroke="#a6a6a6" stroke-width="1.3"/>
<line x1="718.5" y1="618.45" x2="897" y2="618.45" stroke="#a6a6a6" stroke-width="1.3"/>
<line x1="718.5" y1="623" x2="897" y2="623" stroke="#a6a6a6" stroke-width="1.3"/>
<line x1="718.5" y1="627.55" x2="897" y2="627.55" stroke="#a6a6a6" stroke-width="1.3"/>
<line x1="718.5" y1="632.1" x2="897" y2="632.1" stroke="#a6a6a6" stroke-width="1.3"/>
<line x1="718.5" y1="636.65" x2="897" y2="636.65" stroke="#a6a6a6" stroke-width="1.3"/>
<line x1="718.5" y1="641.2" x2="897" y2="641.2" stroke="#a6a6a6" stroke-width="1.3"/>
<line x1="718.5" y1="645.75" x2="897" y2="645.75" stroke="#a6a6a6" stroke-width="1.3"/>
<line x1="718.5" y1="650.3" x2="897" y2="650.3" stroke="#a6a6a6" stroke-width="1.3"/>
<line x1="718.5" y1="654.85" x2="897" y2="654.85" stroke="#a6a6a6" stroke-width="1.3"/>
<line x1="718.5" y1="659.4" x2="897" y2="659.4" stroke="#a6a6a6" stroke-width="1.3"/>
<line x1="718.5" y1="663.95" x2="897" y2="663.95" stroke="#a6a6a6" stroke-width="1.3"/>
<line x1="718.5" y1="668.5" x2="897" y2="668.5" stroke="#a6a6a6" stroke-width="1.3"/>
<line x1="718.5" y1="673.05" x2="897" y2="673.05" stroke="#a6a6a6" stroke-width="1.3"/>
<line x1="718.5" y1="677.6" x2="897" y2="677.6" stroke="#a6a6a6" stroke-width="1.3"/>
<line x1="718.5" y1="682.15" x2="897" y2="682.15" stroke="#a6a6a6" stroke-width="1.3"/>
<path d="M748.8,292.3 L748.8,243.8 L907.5,243.8 L907.5,374.4 L888.5,374.4" fill="none" stroke="#444" stroke-width="1.1"/>
<path d="M764.4,268 L900.6,268 L900.6,367 L888.5,367 L888.5,306.6 L764.4,306.6 Z" fill="#fbfbfb" stroke="#333" stroke-width="1.1"/>
<g fill="#3a3a3a"><circle cx="808.72" cy="283.28" r="0.3"/><circle cx="814.37" cy="274.18" r="0.45"/><circle cx="774.43" cy="277.39" r="0.75"/><circle cx="892.91" cy="330.3" r="0.3"/><circle cx="896.79" cy="273.07" r="0.4"/><circle cx="804.1" cy="282.64" r="0.35"/><circle cx="857.07" cy="278.6" r="0.45"/><circle cx="773.48" cy="274.34" r="0.45"/><circle cx="889.66" cy="303.94" r="0.45"/><circle cx="863.48" cy="296.72" r="0.35"/><circle cx="867.21" cy="283.39" r="0.9"/><circle cx="810.92" cy="302.82" r="0.9"/><circle cx="875.96" cy="296.39" r="0.75"/><circle cx="884.75" cy="302.51" r="0.9"/><circle cx="831.65" cy="289.88" r="0.5"/><circle cx="782.46" cy="292.77" r="0.75"/><circle cx="802.51" cy="281.92" r="0.75"/><circle cx="881.64" cy="295.79" r="0.75"/><circle cx="898.17" cy="335.41" r="0.75"/><circle cx="894.29" cy="283.29" r="0.4"/><circle cx="789.62" cy="296.13" r="0.4"/><circle cx="821.56" cy="304.69" r="0.6"/><circle cx="893.67" cy="336.17" r="0.3"/><circle cx="893.5" cy="335.2" r="0.75"/><circle cx="824.48" cy="279.27" r="0.3"/><circle cx="847.85" cy="275.39" r="0.45"/><circle cx="847.9" cy="283.06" r="0.5"/><circle cx="893.99" cy="327.52" r="0.9"/><circle cx="899.07" cy="314.17" r="0.9"/><circle cx="807.1" cy="282.62" r="0.6"/><circle cx="813.02" cy="290.33" r="0.6"/><circle cx="791.34" cy="291.96" r="0.75"/><circle cx="864.88" cy="290.72" r="0.9"/><circle cx="813" cy="271.34" r="0.3"/><circle cx="862.62" cy="302.75" r="0.6"/><circle cx="775.87" cy="278.51" r="0.9"/><circle cx="791.56" cy="288.53" r="0.3"/><circle cx="872.95" cy="276.81" r="0.35"/><circle cx="896.17" cy="307.29" r="0.75"/><circle cx="865.35" cy="276.82" r="0.4"/><circle cx="787.95" cy="280.95" r="0.4"/><circle cx="891.56" cy="283.78" r="0.4"/><circle cx="863.06" cy="278.57" r="0.4"/><circle cx="876.53" cy="289.18" r="0.5"/><circle cx="868.1" cy="300.45" r="0.75"/><circle cx="877.62" cy="274.47" r="0.6"/><circle cx="782.65" cy="283.38" r="0.3"/><circle cx="785.22" cy="282.37" r="0.35"/><circle cx="840.12" cy="300.45" r="0.9"/><circle cx="870.88" cy="278.9" r="0.3"/><circle cx="798.55" cy="295.64" r="0.35"/><circle cx="892.1" cy="337.02" r="0.5"/><circle cx="822.83" cy="289.34" r="0.5"/><circle cx="854.13" cy="282.51" r="0.4"/><circle cx="895.62" cy="290.02" r="0.35"/><circle cx="898.63" cy="350.08" r="0.4"/><circle cx="813.14" cy="277.54" r="0.6"/><circle cx="824.46" cy="270.27" r="0.6"/><circle cx="834.85" cy="297.45" r="0.35"/><circle cx="776.35" cy="295.15" r="0.4"/><circle cx="801.51" cy="281.2" r="0.75"/><circle cx="892.71" cy="308.28" r="0.9"/><circle cx="859.56" cy="277.27" r="0.3"/><circle cx="872.94" cy="286.47" r="0.35"/><circle cx="801.3" cy="270.15" r="0.35"/><circle cx="873.22" cy="276.71" r="0.45"/><circle cx="826.26" cy="301.74" r="0.75"/><circle cx="890.1" cy="294.75" r="0.4"/><circle cx="891.65" cy="363.48" r="0.5"/><circle cx="771.8" cy="288.27" r="0.5"/><circle cx="855.74" cy="295.01" r="0.3"/><circle cx="899.26" cy="272.12" r="0.3"/><circle cx="891.18" cy="278.92" r="0.75"/><circle cx="806.55" cy="289.59" r="0.45"/><circle cx="819.63" cy="302.56" r="0.3"/><circle cx="877.99" cy="269.9" r="0.5"/><circle cx="823.15" cy="273.93" r="0.75"/><circle cx="803.06" cy="292.24" r="0.5"/><circle cx="771.11" cy="286.66" r="0.5"/><circle cx="825.19" cy="294.3" r="0.6"/><circle cx="896.3" cy="322.11" r="0.45"/><circle cx="794.41" cy="286.43" r="0.6"/><circle cx="832.87" cy="288.2" r="0.3"/><circle cx="818.19" cy="297.87" r="0.45"/><circle cx="880.19" cy="283.71" r="0.75"/><circle cx="831.72" cy="296.35" r="0.4"/><circle cx="796.04" cy="271.55" r="0.4"/><circle cx="771.86" cy="270.35" r="0.45"/><circle cx="854.01" cy="274.97" r="0.9"/><circle cx="799.05" cy="275.8" r="0.5"/><circle cx="803.79" cy="273.08" r="0.45"/><circle cx="775.46" cy="282.95" r="0.5"/><circle cx="848.86" cy="281.58" r="0.9"/><circle cx="773.19" cy="294.84" r="0.35"/><circle cx="891.39" cy="270.22" r="0.9"/><circle cx="899.27" cy="365.91" r="0.75"/><circle cx="893.62" cy="281.5" r="0.5"/><circle cx="830.63" cy="270.93" r="0.3"/><circle cx="893.24" cy="335.3" r="0.75"/><circle cx="805.76" cy="282.29" r="0.6"/><circle cx="815.77" cy="280.35" r="0.6"/><circle cx="878.28" cy="280.26" r="0.45"/><circle cx="804.13" cy="304.98" r="0.75"/><circle cx="802.89" cy="273.56" r="0.5"/><circle cx="850.72" cy="283.09" r="0.5"/><circle cx="823.89" cy="299.43" r="0.6"/><circle cx="839.81" cy="288.44" r="0.35"/><circle cx="852.01" cy="296.55" r="0.3"/><circle cx="803.04" cy="293.56" r="0.5"/><circle cx="819.84" cy="291.89" r="0.9"/><circle cx="787.59" cy="284.34" r="0.45"/><circle cx="797.95" cy="285.62" r="0.35"/><circle cx="808.1" cy="304.59" r="0.45"/><circle cx="835.76" cy="305.43" r="0.6"/><circle cx="842.53" cy="303.79" r="0.45"/><circle cx="823.3" cy="299.08" r="0.3"/><circle cx="895.72" cy="316.5" r="0.35"/><circle cx="896.25" cy="292.85" r="0.35"/><circle cx="795.21" cy="283.4" r="0.35"/><circle cx="892.1" cy="339.23" r="0.9"/><circle cx="841.87" cy="272.18" r="0.5"/><circle cx="894.93" cy="329.89" r="0.75"/><circle cx="859.31" cy="279.49" r="0.35"/><circle cx="790.88" cy="294.07" r="0.3"/><circle cx="766.41" cy="298.05" r="0.9"/><circle cx="802.61" cy="299.5" r="0.45"/><circle cx="829.17" cy="291.51" r="0.45"/><circle cx="852.7" cy="273.92" r="0.45"/><circle cx="821.7" cy="293.71" r="0.75"/><circle cx="889.9" cy="290.73" r="0.3"/><circle cx="765.91" cy="297.13" r="0.35"/><circle cx="796.16" cy="290.2" r="0.5"/><circle cx="889.46" cy="273.83" r="0.3"/><circle cx="896.51" cy="282.41" r="0.3"/><circle cx="860.83" cy="286.54" r="0.9"/><circle cx="890.77" cy="300.77" r="0.4"/><circle cx="828.13" cy="299.06" r="0.75"/><circle cx="824.73" cy="279.18" r="0.35"/><circle cx="802.77" cy="302.94" r="0.35"/><circle cx="825.26" cy="300.18" r="0.9"/><circle cx="770.49" cy="271.92" r="0.35"/><circle cx="873.45" cy="274.58" r="0.45"/><circle cx="810.77" cy="295.19" r="0.3"/><circle cx="807.73" cy="295.51" r="0.3"/><circle cx="875" cy="281.51" r="0.9"/><circle cx="809.25" cy="299.82" r="0.6"/><circle cx="838.52" cy="284.25" r="0.75"/><circle cx="800.76" cy="276.74" r="0.35"/><circle cx="896.24" cy="285.47" r="0.4"/><circle cx="791.89" cy="292.75" r="0.45"/><circle cx="796.79" cy="296.07" r="0.45"/><circle cx="898.98" cy="318.22" r="0.45"/><circle cx="852.7" cy="278.35" r="0.9"/><circle cx="898.78" cy="278.53" r="0.9"/><circle cx="884.18" cy="291.15" r="0.9"/><circle cx="888.44" cy="272.46" r="0.5"/><circle cx="796.44" cy="273.44" r="0.45"/><circle cx="890.57" cy="304.98" r="0.4"/><circle cx="825.63" cy="293.97" r="0.3"/><circle cx="848.69" cy="289.83" r="0.6"/><circle cx="810.9" cy="272.83" r="0.5"/><circle cx="775.52" cy="271.58" r="0.9"/><circle cx="838.99" cy="274.7" r="0.35"/><circle cx="892.17" cy="311.05" r="0.4"/><circle cx="827.22" cy="284.43" r="0.3"/><circle cx="771.98" cy="282.46" r="0.75"/><circle cx="784.69" cy="296.26" r="0.4"/><circle cx="889.94" cy="279.16" r="0.9"/><circle cx="873.64" cy="298.06" r="0.3"/><circle cx="896.7" cy="315.81" r="0.3"/><circle cx="841.33" cy="272.59" r="0.4"/><circle cx="816.78" cy="280.56" r="0.45"/><circle cx="896.04" cy="348.43" r="0.45"/><circle cx="867.26" cy="272.24" r="0.6"/><circle cx="824.18" cy="270.79" r="0.9"/><circle cx="819.05" cy="275.08" r="0.6"/><circle cx="823.13" cy="277.49" r="0.9"/><circle cx="770.49" cy="281.27" r="0.6"/><circle cx="899.48" cy="340.24" r="0.35"/><circle cx="888.67" cy="284.68" r="0.45"/><circle cx="773.84" cy="302.89" r="0.5"/><circle cx="889.19" cy="288.92" r="0.5"/><circle cx="848.14" cy="291.77" r="0.6"/><circle cx="769.97" cy="286.35" r="0.4"/><circle cx="850.94" cy="295.76" r="0.6"/><circle cx="885.88" cy="285.04" r="0.5"/><circle cx="850.9" cy="303.76" r="0.9"/><circle cx="884.14" cy="278.75" r="0.75"/><circle cx="864.62" cy="304.9" r="0.75"/><circle cx="898.72" cy="325.08" r="0.6"/><circle cx="809.66" cy="276.48" r="0.45"/><circle cx="897.85" cy="325.92" r="0.6"/><circle cx="794.92" cy="297.02" r="0.75"/><circle cx="821.39" cy="304.18" r="0.3"/><circle cx="782.82" cy="290.77" r="0.3"/><circle cx="812.92" cy="278.92" r="0.6"/><circle cx="805.66" cy="281.61" r="0.6"/><circle cx="797.88" cy="283.13" r="0.35"/><circle cx="773.6" cy="282.68" r="0.5"/><circle cx="819.26" cy="294.4" r="0.3"/><circle cx="773.31" cy="270.97" r="0.4"/><circle cx="797.09" cy="274.22" r="0.35"/><circle cx="892.02" cy="282.44" r="0.45"/><circle cx="899.2" cy="339.48" r="0.9"/><circle cx="861.58" cy="269.12" r="0.75"/><circle cx="795.5" cy="278.82" r="0.45"/><circle cx="851.94" cy="280.58" r="0.5"/><circle cx="861.08" cy="294.57" r="0.75"/><circle cx="896.21" cy="297.47" r="0.45"/><circle cx="878.63" cy="288.37" r="0.4"/><circle cx="865.73" cy="300.53" r="0.75"/><circle cx="809.35" cy="291.94" r="0.9"/><circle cx="765.86" cy="271.1" r="0.45"/><circle cx="842" cy="298.66" r="0.45"/><circle cx="841.3" cy="285.31" r="0.3"/><circle cx="768.63" cy="278.95" r="0.4"/><circle cx="811.56" cy="282.4" r="0.3"/><circle cx="769.17" cy="282.06" r="0.3"/><circle cx="779.46" cy="288.66" r="0.35"/><circle cx="852.25" cy="297.36" r="0.6"/><circle cx="822.21" cy="270.55" r="0.5"/><circle cx="890.56" cy="273.24" r="0.6"/><circle cx="871.52" cy="271.56" r="0.35"/><circle cx="837.61" cy="289.72" r="0.35"/><circle cx="842.56" cy="296.64" r="0.75"/><circle cx="803.3" cy="289.54" r="0.45"/><circle cx="832.27" cy="279.27" r="0.35"/><circle cx="840.77" cy="278.75" r="0.6"/><circle cx="768.4" cy="288.7" r="0.5"/><circle cx="858.02" cy="293.71" r="0.45"/><circle cx="884.49" cy="291.82" r="0.45"/><circle cx="812.07" cy="291.65" r="0.45"/><circle cx="899.31" cy="284.63" r="0.35"/><circle cx="791.38" cy="283.29" r="0.4"/><circle cx="823.71" cy="287.73" r="0.35"/><circle cx="827.63" cy="269.74" r="0.75"/><circle cx="821.86" cy="290.9" r="0.45"/><circle cx="826.28" cy="299.18" r="0.35"/><circle cx="885.79" cy="292.25" r="0.75"/><circle cx="890.58" cy="286.44" r="0.6"/><circle cx="870.05" cy="306.59" r="0.9"/><circle cx="887.61" cy="278.93" r="0.5"/><circle cx="838.35" cy="284.26" r="0.45"/><circle cx="835.09" cy="278.41" r="0.9"/><circle cx="812.99" cy="274.05" r="0.5"/><circle cx="816.55" cy="274.53" r="0.35"/><circle cx="859.26" cy="303.01" r="0.5"/><circle cx="779.75" cy="298.24" r="0.75"/><circle cx="891.89" cy="320.15" r="0.45"/><circle cx="899.22" cy="362.66" r="0.9"/><circle cx="793.62" cy="281.17" r="0.35"/><circle cx="828.19" cy="297.35" r="0.4"/><circle cx="870.79" cy="291.08" r="0.75"/><circle cx="849.15" cy="276.87" r="0.6"/><circle cx="785.62" cy="298.21" r="0.75"/><circle cx="850.48" cy="269.97" r="0.3"/><circle cx="793.32" cy="275.56" r="0.5"/><circle cx="798.75" cy="278.45" r="0.4"/><circle cx="880.31" cy="286.7" r="0.9"/><circle cx="811.77" cy="283.46" r="0.75"/><circle cx="871.88" cy="284.96" r="0.35"/><circle cx="839.93" cy="294.42" r="0.45"/><circle cx="798.29" cy="284.63" r="0.3"/><circle cx="786.65" cy="299.93" r="0.9"/><circle cx="894.68" cy="275.89" r="0.6"/><circle cx="850.88" cy="271.3" r="0.3"/><circle cx="886.17" cy="271.82" r="0.75"/><circle cx="849.41" cy="301.68" r="0.6"/><circle cx="803.36" cy="302.01" r="0.5"/><circle cx="896.62" cy="332.65" r="0.35"/><circle cx="809.67" cy="299.58" r="0.5"/><circle cx="818.8" cy="279.13" r="0.3"/><circle cx="778.68" cy="286.27" r="0.3"/><circle cx="821.91" cy="278.36" r="0.3"/><circle cx="799.83" cy="298.1" r="0.75"/><circle cx="769.62" cy="270.5" r="0.3"/><circle cx="819.63" cy="275.09" r="0.75"/><circle cx="854.02" cy="283.72" r="0.75"/><circle cx="839.09" cy="276.63" r="0.9"/><circle cx="793.66" cy="283.37" r="0.3"/><circle cx="822.64" cy="269.41" r="0.35"/><circle cx="898.2" cy="352.63" r="0.45"/><circle cx="882.39" cy="281.14" r="0.3"/><circle cx="889.58" cy="304.36" r="0.4"/><circle cx="863.51" cy="276.76" r="0.9"/><circle cx="861.82" cy="269.62" r="0.3"/><circle cx="894.29" cy="350.32" r="0.3"/><circle cx="826.12" cy="295.15" r="0.6"/><circle cx="804.47" cy="274.44" r="0.6"/><circle cx="767.09" cy="283.31" r="0.5"/><circle cx="798.22" cy="306.46" r="0.75"/><circle cx="874.01" cy="296.26" r="0.3"/><circle cx="808.41" cy="294.77" r="0.4"/><circle cx="884.8" cy="272.65" r="0.4"/><circle cx="842.21" cy="295.34" r="0.9"/><circle cx="811.83" cy="276.84" r="0.9"/><circle cx="872.65" cy="288.14" r="0.45"/><circle cx="806.78" cy="274.14" r="0.75"/><circle cx="827.82" cy="288.75" r="0.5"/><circle cx="844.16" cy="269.42" r="0.75"/><circle cx="827.06" cy="277.09" r="0.6"/><circle cx="869.24" cy="291.32" r="0.5"/><circle cx="790.54" cy="287.35" r="0.4"/><circle cx="873.79" cy="296.9" r="0.6"/><circle cx="785.12" cy="272.87" r="0.9"/><circle cx="815.5" cy="278.9" r="0.9"/><circle cx="871.29" cy="283.8" r="0.3"/><circle cx="767.78" cy="271.79" r="0.9"/><circle cx="844.21" cy="289.43" r="0.5"/><circle cx="895.07" cy="293.39" r="0.3"/><circle cx="816.06" cy="271.2" r="0.3"/><circle cx="887.84" cy="274.79" r="0.75"/><circle cx="777.14" cy="299.73" r="0.45"/><circle cx="825.53" cy="284.15" r="0.45"/><circle cx="898.88" cy="290.23" r="0.3"/><circle cx="892.13" cy="360.73" r="0.3"/><circle cx="878.02" cy="273.11" r="0.9"/><circle cx="772.53" cy="282.69" r="0.3"/><circle cx="891.82" cy="334.84" r="0.5"/><circle cx="815.62" cy="305.71" r="0.9"/><circle cx="797.19" cy="282.53" r="0.3"/><circle cx="872.84" cy="283.88" r="0.45"/><circle cx="890" cy="306.24" r="0.3"/><circle cx="784.27" cy="290.22" r="0.3"/><circle cx="798.31" cy="270.99" r="0.5"/><circle cx="810.16" cy="284.94" r="0.9"/><circle cx="830.13" cy="283.53" r="0.3"/><circle cx="889.91" cy="323.37" r="0.5"/><circle cx="896.04" cy="310.84" r="0.5"/><circle cx="778.17" cy="296.86" r="0.4"/><circle cx="811.02" cy="282.23" r="0.3"/><circle cx="803.66" cy="303.79" r="0.3"/><circle cx="888.12" cy="289.89" r="0.4"/><circle cx="783.64" cy="286.15" r="0.45"/><circle cx="861.07" cy="287.78" r="0.35"/><circle cx="788.67" cy="281.93" r="0.45"/><circle cx="843.7" cy="288.32" r="0.35"/><circle cx="834.99" cy="302.57" r="0.5"/><circle cx="831.56" cy="270.01" r="0.9"/><circle cx="898.07" cy="272.09" r="0.6"/><circle cx="895.78" cy="275.49" r="0.6"/><circle cx="881.84" cy="299.96" r="0.75"/><circle cx="804.36" cy="279.05" r="0.9"/><circle cx="825.27" cy="271.01" r="0.4"/><circle cx="795.2" cy="286.37" r="0.35"/><circle cx="893.97" cy="270.41" r="0.45"/><circle cx="812.34" cy="277.7" r="0.4"/><circle cx="771.1" cy="280.56" r="0.9"/><circle cx="779.86" cy="280.41" r="0.4"/><circle cx="838.12" cy="290.79" r="0.45"/><circle cx="865.79" cy="284.6" r="0.3"/><circle cx="891.57" cy="306.6" r="0.75"/><circle cx="772.02" cy="304.1" r="0.75"/><circle cx="797.45" cy="301.34" r="0.75"/><circle cx="898.09" cy="299.92" r="0.75"/><circle cx="879.43" cy="273.75" r="0.4"/><circle cx="894.31" cy="360.06" r="0.45"/><circle cx="766.56" cy="279.18" r="0.4"/><circle cx="833.14" cy="270.54" r="0.4"/><circle cx="896.39" cy="272.45" r="0.5"/><circle cx="769.83" cy="278.35" r="0.35"/><circle cx="893.37" cy="296.68" r="0.5"/><circle cx="811.92" cy="284.86" r="0.3"/><circle cx="834.36" cy="294.8" r="0.9"/><circle cx="842.94" cy="295.36" r="0.35"/><circle cx="864.95" cy="296.64" r="0.9"/><circle cx="852.8" cy="288.22" r="0.6"/><circle cx="806.92" cy="292.24" r="0.45"/><circle cx="895.9" cy="307.35" r="0.6"/><circle cx="808.73" cy="300.4" r="0.5"/><circle cx="786.41" cy="275.05" r="0.6"/><circle cx="824.4" cy="274.58" r="0.75"/><circle cx="877.63" cy="303.2" r="0.35"/><circle cx="783.94" cy="288.34" r="0.5"/><circle cx="888.49" cy="280.97" r="0.35"/><circle cx="894.97" cy="324.55" r="0.75"/><circle cx="879.74" cy="295.87" r="0.35"/><circle cx="839.97" cy="306.18" r="0.6"/><circle cx="898.61" cy="305.81" r="0.5"/><circle cx="789.87" cy="298.3" r="0.4"/><circle cx="823.81" cy="305.45" r="0.45"/><circle cx="887.93" cy="269.55" r="0.3"/><circle cx="827.67" cy="272.49" r="0.6"/><circle cx="826.16" cy="269.52" r="0.35"/><circle cx="835.91" cy="278.2" r="0.6"/><circle cx="890.34" cy="283.61" r="0.45"/><circle cx="895.2" cy="316.2" r="0.9"/><circle cx="865.77" cy="277.54" r="0.6"/><circle cx="898.68" cy="355.54" r="0.75"/><circle cx="875.18" cy="288.86" r="0.45"/><circle cx="820.66" cy="274.4" r="0.35"/><circle cx="850.93" cy="272.65" r="0.75"/><circle cx="778.3" cy="270.01" r="0.3"/><circle cx="839.69" cy="294.57" r="0.4"/><circle cx="781.4" cy="283.86" r="0.35"/><circle cx="768.92" cy="275.96" r="0.9"/><circle cx="873.89" cy="274.59" r="0.3"/><circle cx="784.43" cy="291.85" r="0.5"/><circle cx="787.87" cy="294.63" r="0.35"/><circle cx="773.51" cy="287.28" r="0.75"/><circle cx="767.64" cy="290.06" r="0.75"/><circle cx="798.66" cy="272.81" r="0.4"/><circle cx="875.15" cy="298.26" r="0.5"/><circle cx="894.6" cy="317.06" r="0.35"/><circle cx="861.99" cy="290.2" r="0.5"/><circle cx="776.81" cy="285.15" r="0.75"/><circle cx="773.84" cy="280.58" r="0.6"/><circle cx="839.77" cy="306.46" r="0.9"/><circle cx="803.28" cy="291.74" r="0.3"/><circle cx="802.68" cy="270.98" r="0.4"/><circle cx="797.64" cy="281.23" r="0.45"/><circle cx="786.49" cy="303.09" r="0.75"/><circle cx="833.15" cy="290.77" r="0.9"/><circle cx="833.88" cy="280.8" r="0.35"/><circle cx="856.51" cy="277.46" r="0.5"/><circle cx="784.58" cy="269.97" r="0.35"/><circle cx="796.26" cy="286.95" r="0.35"/><circle cx="776.87" cy="296.78" r="0.75"/><circle cx="782.84" cy="295.6" r="0.3"/><circle cx="778.19" cy="297.06" r="0.5"/><circle cx="861.2" cy="272.46" r="0.3"/><circle cx="867.19" cy="283.81" r="0.3"/><circle cx="892.11" cy="323.83" r="0.45"/><circle cx="857.38" cy="302.71" r="0.3"/><circle cx="856.94" cy="272.14" r="0.6"/><circle cx="866.19" cy="276.94" r="0.75"/><circle cx="824.75" cy="301.85" r="0.9"/><circle cx="831.08" cy="287.05" r="0.5"/><circle cx="788.56" cy="284.54" r="0.45"/><circle cx="838.43" cy="292.97" r="0.3"/><circle cx="787.69" cy="302.53" r="0.35"/><circle cx="792.19" cy="298.93" r="0.4"/><circle cx="859.24" cy="281.57" r="0.4"/><circle cx="844.32" cy="292.1" r="0.35"/><circle cx="780.45" cy="296.86" r="0.6"/><circle cx="830.69" cy="272.75" r="0.5"/><circle cx="806.03" cy="279.34" r="0.5"/><circle cx="825.48" cy="279.57" r="0.6"/><circle cx="897.28" cy="316.08" r="0.6"/><circle cx="897.33" cy="323.74" r="0.35"/><circle cx="808.44" cy="303.71" r="0.35"/><circle cx="891.26" cy="332.46" r="0.5"/><circle cx="853.16" cy="276.16" r="0.3"/><circle cx="784.59" cy="304.55" r="0.4"/><circle cx="813.09" cy="291.06" r="0.4"/><circle cx="839.4" cy="304.69" r="0.5"/><circle cx="797.32" cy="272.54" r="0.75"/><circle cx="786.26" cy="297.86" r="0.35"/><circle cx="784.15" cy="290.79" r="0.4"/><circle cx="777.1" cy="272.41" r="0.9"/><circle cx="829.72" cy="289.89" r="0.6"/><circle cx="822.43" cy="296.26" r="0.3"/><circle cx="887.04" cy="284.62" r="0.5"/><circle cx="847.23" cy="276.48" r="0.3"/><circle cx="862.57" cy="300.99" r="0.5"/><circle cx="879.49" cy="290.3" r="0.9"/><circle cx="858.33" cy="282.9" r="0.6"/><circle cx="813.6" cy="292.04" r="0.9"/><circle cx="818.51" cy="279.7" r="0.4"/><circle cx="895.75" cy="288.38" r="0.35"/><circle cx="852.71" cy="286.88" r="0.5"/><circle cx="860.73" cy="290.75" r="0.9"/><circle cx="844.44" cy="276.36" r="0.75"/><circle cx="892.99" cy="329.91" r="0.35"/><circle cx="777.57" cy="305.09" r="0.3"/><circle cx="819.59" cy="273.13" r="0.3"/><circle cx="793.77" cy="297.89" r="0.4"/><circle cx="882.55" cy="284.96" r="0.6"/><circle cx="766.57" cy="293.55" r="0.45"/><circle cx="892.98" cy="339.23" r="0.3"/></g>
<line x1="772" y1="301.8" x2="900.2" y2="268.2" stroke="#333" stroke-width="0.9"/>
<rect x="765" y="301.6" width="7" height="6.4" fill="#fff" stroke="#333" stroke-width="0.9"/>
<rect x="766.8" y="303.2" width="3.6" height="3.4" fill="none" stroke="#999" stroke-width="0.6"/>
<path d="M784,285.6 L788,285.6 L786,288.4 Z M788,286.4 L790.4,286.4" fill="none" stroke="#222" stroke-width="0.8"/>
<path d="M832.4,292.6 L831.4,295.4 L833.2,296.8" fill="none" stroke="#222" stroke-width="1.2"/>
<path d="M908,269.4 L912.6,269.6 L914,267" fill="none" stroke="#222" stroke-width="0.9"/>
<circle cx="915.6" cy="266.6" r="1" fill="#222" stroke="#222" stroke-width="0.4"/>
<rect x="713.8" y="292.3" width="35" height="15.3" fill="#4e4e50" stroke="none" stroke-width="1"/>
<rect x="719.4" y="308.2" width="56.2" height="8.6" fill="#dba614" stroke="none" stroke-width="1"/>
<line x1="719.4" y1="308.4" x2="775.6" y2="308.4" stroke="#6a4c10" stroke-width="1.2"/>
<line x1="719.4" y1="316.6" x2="775.6" y2="316.6" stroke="#8a6a10" stroke-width="0.8"/>
<line x1="707.4" y1="306.6" x2="719.4" y2="306.6" stroke="#333" stroke-width="1.1"/>
<line x1="775.6" y1="306.6" x2="888.5" y2="306.6" stroke="#333" stroke-width="1.1"/>
<line x1="707.4" y1="306.6" x2="707.4" y2="564" stroke="#222" stroke-width="1.2"/>
<line x1="707.4" y1="564" x2="707.4" y2="780.4" stroke="#777" stroke-width="1"/>
<line x1="888.5" y1="306.6" x2="888.5" y2="600" stroke="#222" stroke-width="1.2"/>
<line x1="717.5" y1="317.2" x2="878.5" y2="317.2" stroke="#555" stroke-width="1.5"/>
<line x1="717.5" y1="321.6" x2="878.5" y2="321.6" stroke="#7c7c7c" stroke-width="1"/>
<line x1="717.5" y1="326.1" x2="878.5" y2="326.1" stroke="#6a6a6a" stroke-width="1"/>
<line x1="717.5" y1="330.59" x2="878.5" y2="330.59" stroke="#7c7c7c" stroke-width="1"/>
<line x1="717.5" y1="335.09" x2="878.5" y2="335.09" stroke="#6a6a6a" stroke-width="1"/>
<line x1="717.5" y1="339.59" x2="878.5" y2="339.59" stroke="#7c7c7c" stroke-width="1"/>
<line x1="717.5" y1="344.09" x2="878.5" y2="344.09" stroke="#6a6a6a" stroke-width="1"/>
<line x1="717.5" y1="348.59" x2="878.5" y2="348.59" stroke="#7c7c7c" stroke-width="1"/>
<line x1="717.5" y1="353.08" x2="878.5" y2="353.08" stroke="#6a6a6a" stroke-width="1"/>
<line x1="717.5" y1="357.58" x2="878.5" y2="357.58" stroke="#7c7c7c" stroke-width="1"/>
<line x1="717.5" y1="362.08" x2="878.5" y2="362.08" stroke="#6a6a6a" stroke-width="1"/>
<line x1="717.5" y1="366.58" x2="878.5" y2="366.58" stroke="#7c7c7c" stroke-width="1"/>
<line x1="760.6" y1="371.08" x2="878.5" y2="371.08" stroke="#6a6a6a" stroke-width="1"/>
<line x1="760.6" y1="375.57" x2="878.5" y2="375.57" stroke="#7c7c7c" stroke-width="1"/>
<line x1="760.6" y1="380.07" x2="878.5" y2="380.07" stroke="#6a6a6a" stroke-width="1"/>
<line x1="760.6" y1="384.57" x2="878.5" y2="384.57" stroke="#7c7c7c" stroke-width="1"/>
<line x1="760.6" y1="389.07" x2="878.5" y2="389.07" stroke="#6a6a6a" stroke-width="1"/>
<line x1="760.6" y1="393.57" x2="878.5" y2="393.57" stroke="#7c7c7c" stroke-width="1"/>
<line x1="760.6" y1="398.06" x2="878.5" y2="398.06" stroke="#6a6a6a" stroke-width="1"/>
<line x1="760.6" y1="402.56" x2="878.5" y2="402.56" stroke="#7c7c7c" stroke-width="1"/>
<line x1="760.6" y1="407.06" x2="878.5" y2="407.06" stroke="#6a6a6a" stroke-width="1"/>
<line x1="760.6" y1="411.56" x2="878.5" y2="411.56" stroke="#7c7c7c" stroke-width="1"/>
<line x1="760.6" y1="416.06" x2="878.5" y2="416.06" stroke="#6a6a6a" stroke-width="1"/>
<line x1="760.6" y1="420.55" x2="878.5" y2="420.55" stroke="#7c7c7c" stroke-width="1"/>
<line x1="760.6" y1="425.05" x2="878.5" y2="425.05" stroke="#6a6a6a" stroke-width="1"/>
<line x1="760.6" y1="429.55" x2="878.5" y2="429.55" stroke="#7c7c7c" stroke-width="1"/>
<line x1="760.6" y1="434.05" x2="878.5" y2="434.05" stroke="#6a6a6a" stroke-width="1"/>
<line x1="760.6" y1="438.55" x2="878.5" y2="438.55" stroke="#7c7c7c" stroke-width="1"/>
<line x1="760.6" y1="443.04" x2="878.5" y2="443.04" stroke="#6a6a6a" stroke-width="1"/>
<line x1="760.6" y1="447.54" x2="878.5" y2="447.54" stroke="#7c7c7c" stroke-width="1"/>
<line x1="760.6" y1="452.04" x2="878.5" y2="452.04" stroke="#6a6a6a" stroke-width="1"/>
<line x1="760.6" y1="456.54" x2="878.5" y2="456.54" stroke="#7c7c7c" stroke-width="1"/>
<line x1="760.6" y1="461.04" x2="878.5" y2="461.04" stroke="#6a6a6a" stroke-width="1"/>
<line x1="760.6" y1="465.53" x2="878.5" y2="465.53" stroke="#7c7c7c" stroke-width="1"/>
<line x1="760.6" y1="470.03" x2="878.5" y2="470.03" stroke="#6a6a6a" stroke-width="1"/>
<line x1="760.6" y1="474.53" x2="878.5" y2="474.53" stroke="#7c7c7c" stroke-width="1"/>
<line x1="760.6" y1="479.03" x2="878.5" y2="479.03" stroke="#6a6a6a" stroke-width="1"/>
<line x1="760.6" y1="483.53" x2="878.5" y2="483.53" stroke="#7c7c7c" stroke-width="1"/>
<line x1="760.6" y1="488.02" x2="878.5" y2="488.02" stroke="#6a6a6a" stroke-width="1"/>
<line x1="760.6" y1="492.52" x2="878.5" y2="492.52" stroke="#7c7c7c" stroke-width="1"/>
<line x1="760.6" y1="497.02" x2="878.5" y2="497.02" stroke="#6a6a6a" stroke-width="1"/>
<line x1="760.6" y1="501.52" x2="878.5" y2="501.52" stroke="#7c7c7c" stroke-width="1"/>
<line x1="760.6" y1="506.02" x2="878.5" y2="506.02" stroke="#6a6a6a" stroke-width="1"/>
<line x1="760.6" y1="510.51" x2="878.5" y2="510.51" stroke="#7c7c7c" stroke-width="1"/>
<line x1="760.6" y1="515.01" x2="878.5" y2="515.01" stroke="#6a6a6a" stroke-width="1"/>
<line x1="760.6" y1="519.51" x2="878.5" y2="519.51" stroke="#7c7c7c" stroke-width="1"/>
<line x1="760.6" y1="524.01" x2="878.5" y2="524.01" stroke="#6a6a6a" stroke-width="1"/>
<line x1="760.6" y1="528.51" x2="878.5" y2="528.51" stroke="#7c7c7c" stroke-width="1"/>
<line x1="760.6" y1="533" x2="878.5" y2="533" stroke="#6a6a6a" stroke-width="1"/>
<line x1="760.6" y1="537.5" x2="878.5" y2="537.5" stroke="#7c7c7c" stroke-width="1"/>
<line x1="760.6" y1="542" x2="878.5" y2="542" stroke="#6a6a6a" stroke-width="1"/>
<line x1="760.6" y1="546.5" x2="878.5" y2="546.5" stroke="#7c7c7c" stroke-width="1"/>
<line x1="760.6" y1="551" x2="878.5" y2="551" stroke="#6a6a6a" stroke-width="1"/>
<line x1="760.6" y1="555.49" x2="878.5" y2="555.49" stroke="#7c7c7c" stroke-width="1"/>
<line x1="760.6" y1="559.99" x2="878.5" y2="559.99" stroke="#6a6a6a" stroke-width="1"/>
<line x1="760.6" y1="564.49" x2="878.5" y2="564.49" stroke="#7c7c7c" stroke-width="1"/>
<line x1="760.6" y1="568.99" x2="878.5" y2="568.99" stroke="#6a6a6a" stroke-width="1"/>
<line x1="760.6" y1="573.49" x2="878.5" y2="573.49" stroke="#7c7c7c" stroke-width="1"/>
<line x1="760.6" y1="577.98" x2="878.5" y2="577.98" stroke="#6a6a6a" stroke-width="1"/>
<line x1="760.6" y1="582.48" x2="878.5" y2="582.48" stroke="#7c7c7c" stroke-width="1"/>
<line x1="760.6" y1="586.98" x2="878.5" y2="586.98" stroke="#6a6a6a" stroke-width="1"/>
<line x1="717.5" y1="317.2" x2="717.5" y2="371.2" stroke="#444" stroke-width="1"/>
<line x1="878.3" y1="317.2" x2="878.3" y2="591.5" stroke="#777" stroke-width="1.7"/>
<line x1="760.6" y1="371.2" x2="760.6" y2="591.5" stroke="#444" stroke-width="1"/>
<line x1="760.6" y1="591.6" x2="878.5" y2="591.6" stroke="#444" stroke-width="1.3"/>
<line x1="717.5" y1="317.2" x2="817.2" y2="398.4" stroke="#333" stroke-width="0.9"/>
<line x1="878.5" y1="317.2" x2="822.2" y2="398.4" stroke="#333" stroke-width="0.9"/>
<line x1="817" y1="403" x2="760.8" y2="436.4" stroke="#333" stroke-width="0.9"/>
<line x1="822.6" y1="403" x2="878.4" y2="436.4" stroke="#333" stroke-width="0.9"/>
<line x1="760.6" y1="436.3" x2="878.5" y2="436.3" stroke="#444" stroke-width="1.6"/>
<line x1="760.8" y1="436.6" x2="817" y2="458.6" stroke="#333" stroke-width="0.9"/>
<line x1="878.4" y1="436.6" x2="822.6" y2="458.6" stroke="#333" stroke-width="0.9"/>
<line x1="817.4" y1="463.4" x2="761" y2="591.4" stroke="#333" stroke-width="0.9"/>
<line x1="822.2" y1="463.4" x2="878.2" y2="591.4" stroke="#333" stroke-width="0.9"/>
<rect x="816.6" y="397.5" width="6.2" height="6.2" fill="#fff" stroke="#555" stroke-width="0.9"/>
<line x1="816.6" y1="397.5" x2="822.8" y2="403.7" stroke="#aaa" stroke-width="0.6"/>
<line x1="816.6" y1="403.7" x2="822.8" y2="397.5" stroke="#aaa" stroke-width="0.6"/>
<rect x="816.6" y="457.7" width="6.2" height="6.2" fill="#fff" stroke="#555" stroke-width="0.9"/>
<line x1="816.6" y1="457.7" x2="822.8" y2="463.9" stroke="#aaa" stroke-width="0.6"/>
<line x1="816.6" y1="463.9" x2="822.8" y2="457.7" stroke="#aaa" stroke-width="0.6"/>
<path d="M816.9,376.24 L822.5,376.24 L819.7,380.44 Z" fill="#f4f4f4" stroke="#222" stroke-width="1.15"/>
<path d="M795.04,397.8 L795.04,403.4 L799.24,400.6 Z" fill="#f4f4f4" stroke="#222" stroke-width="1.15"/>
<path d="M843.96,397.8 L843.96,403.4 L839.76,400.6 Z" fill="#f4f4f4" stroke="#222" stroke-width="1.15"/>
<path d="M816.9,424.96 L822.5,424.96 L819.7,420.76 Z" fill="#f4f4f4" stroke="#222" stroke-width="1.15"/>
<path d="M816.9,440.04 L822.5,440.04 L819.7,444.24 Z" fill="#f4f4f4" stroke="#222" stroke-width="1.15"/>
<path d="M795.04,456.2 L795.04,461.8 L799.24,459 Z" fill="#f4f4f4" stroke="#222" stroke-width="1.15"/>
<path d="M843.96,456.2 L843.96,461.8 L839.76,459 Z" fill="#f4f4f4" stroke="#222" stroke-width="1.15"/>
<path d="M816.9,485.36 L822.5,485.36 L819.7,481.16 Z" fill="#f4f4f4" stroke="#222" stroke-width="1.15"/>
<rect x="792.2" y="462.2" width="16.4" height="32.8" fill="#4a4a4c" stroke="#222" stroke-width="1.2"/>
<rect x="798.4" y="467" width="3.4" height="3.4" fill="#333" stroke="#ddd" stroke-width="0.6"/>
<path d="M798,471.6 L802,475" fill="none" stroke="#ddd" stroke-width="0.7"/>
<circle cx="800" cy="477" r="1.3" fill="#fff" stroke="#fff" stroke-width="0.3"/>
<circle cx="800" cy="481.8" r="1.5" fill="#fff" stroke="#fff" stroke-width="0.3"/>
<circle cx="800" cy="487" r="1.9" fill="#fff" stroke="#fff" stroke-width="0.3"/>
<line x1="707.4" y1="371.2" x2="760.6" y2="371.2" stroke="#222" stroke-width="1.3"/>
<line x1="717.5" y1="380.87" x2="750.6" y2="380.87" stroke="#222" stroke-width="1.25"/>
<line x1="717.5" y1="390.53" x2="750.6" y2="390.53" stroke="#222" stroke-width="1.25"/>
<line x1="717.5" y1="400.19" x2="750.6" y2="400.19" stroke="#222" stroke-width="1.25"/>
<line x1="717.5" y1="409.86" x2="750.6" y2="409.86" stroke="#222" stroke-width="1.25"/>
<line x1="717.5" y1="419.52" x2="750.6" y2="419.52" stroke="#222" stroke-width="1.25"/>
<line x1="717.5" y1="429.19" x2="750.6" y2="429.19" stroke="#222" stroke-width="1.25"/>
<line x1="717.5" y1="438.86" x2="750.6" y2="438.86" stroke="#222" stroke-width="1.25"/>
<line x1="717.5" y1="448.52" x2="750.6" y2="448.52" stroke="#222" stroke-width="1.25"/>
<line x1="717.5" y1="458.18" x2="750.6" y2="458.18" stroke="#222" stroke-width="1.25"/>
<line x1="717.5" y1="467.85" x2="750.6" y2="467.85" stroke="#222" stroke-width="1.25"/>
<line x1="717.5" y1="477.51" x2="750.6" y2="477.51" stroke="#222" stroke-width="1.25"/>
<line x1="717.5" y1="487.18" x2="750.6" y2="487.18" stroke="#222" stroke-width="1.25"/>
<line x1="717.5" y1="496.84" x2="750.6" y2="496.84" stroke="#222" stroke-width="1.25"/>
<line x1="717.5" y1="506.51" x2="750.6" y2="506.51" stroke="#222" stroke-width="1.25"/>
<line x1="717.5" y1="516.17" x2="750.6" y2="516.17" stroke="#222" stroke-width="1.25"/>
<line x1="717.5" y1="525.84" x2="750.6" y2="525.84" stroke="#222" stroke-width="1.25"/>
<line x1="717.5" y1="535.5" x2="750.6" y2="535.5" stroke="#222" stroke-width="1.25"/>
<line x1="717.5" y1="371.2" x2="717.5" y2="540" stroke="#333" stroke-width="1.1"/>
<line x1="750.6" y1="371.2" x2="750.6" y2="564" stroke="#333" stroke-width="1.1"/>
<line x1="734.4" y1="371.2" x2="734.4" y2="540" stroke="#777" stroke-width="0.9"/>
<path d="M730.6,373.8 L733.8,372.6 L733.8,374.6 Z M738.2,373.8 L735,372.6 L735,374.6 Z" fill="#222" stroke="#222" stroke-width="0.6"/>
<line x1="717.5" y1="535.6" x2="750.6" y2="535.6" stroke="#111" stroke-width="1.4"/>
<line x1="707.4" y1="540" x2="750.6" y2="540" stroke="#333" stroke-width="1.1"/>
<line x1="707.4" y1="564" x2="718.5" y2="564" stroke="#222" stroke-width="1.3"/>
<line x1="718.5" y1="564" x2="718.5" y2="780.4" stroke="#999" stroke-width="1"/>
<line x1="750.6" y1="564" x2="750.6" y2="600" stroke="#444" stroke-width="1" stroke-dasharray="3 1.6"/>
<text x="747.5" y="368.8" font-size="5.6" fill="#444" textLength="4.6" lengthAdjust="spacingAndGlyphs" text-anchor="end">19</text>
<text x="749.4" y="378.4" font-size="5.8" fill="#333" textLength="4.8" lengthAdjust="spacingAndGlyphs" text-anchor="end">18</text>
<text x="749.4" y="388.06" font-size="5.8" fill="#333" textLength="4.8" lengthAdjust="spacingAndGlyphs" text-anchor="end">17</text>
<text x="749.4" y="397.73" font-size="5.8" fill="#333" textLength="4.8" lengthAdjust="spacingAndGlyphs" text-anchor="end">16</text>
<text x="749.4" y="407.39" font-size="5.8" fill="#333" textLength="4.8" lengthAdjust="spacingAndGlyphs" text-anchor="end">15</text>
<text x="749.4" y="417.06" font-size="5.8" fill="#333" textLength="4.8" lengthAdjust="spacingAndGlyphs" text-anchor="end">14</text>
<text x="749.4" y="426.72" font-size="5.8" fill="#333" textLength="4.8" lengthAdjust="spacingAndGlyphs" text-anchor="end">13</text>
<text x="749.4" y="436.39" font-size="5.8" fill="#333" textLength="4.8" lengthAdjust="spacingAndGlyphs" text-anchor="end">12</text>
<text x="749.4" y="446.05" font-size="5.8" fill="#333" textLength="4.8" lengthAdjust="spacingAndGlyphs" text-anchor="end">11</text>
<text x="749.4" y="455.72" font-size="5.8" fill="#333" textLength="4.8" lengthAdjust="spacingAndGlyphs" text-anchor="end">10</text>
<text x="749.4" y="465.38" font-size="5.8" fill="#333" textLength="4.8" lengthAdjust="spacingAndGlyphs" text-anchor="end">09</text>
<text x="749.4" y="475.05" font-size="5.8" fill="#333" textLength="4.8" lengthAdjust="spacingAndGlyphs" text-anchor="end">08</text>
<text x="749.4" y="484.71" font-size="5.8" fill="#333" textLength="4.8" lengthAdjust="spacingAndGlyphs" text-anchor="end">07</text>
<text x="749.4" y="494.38" font-size="5.8" fill="#333" textLength="4.8" lengthAdjust="spacingAndGlyphs" text-anchor="end">06</text>
<text x="749.4" y="504.04" font-size="5.8" fill="#333" textLength="4.8" lengthAdjust="spacingAndGlyphs" text-anchor="end">05</text>
<text x="749.4" y="513.71" font-size="5.8" fill="#333" textLength="4.8" lengthAdjust="spacingAndGlyphs" text-anchor="end">04</text>
<text x="749.4" y="523.38" font-size="5.8" fill="#333" textLength="4.8" lengthAdjust="spacingAndGlyphs" text-anchor="end">03</text>
<text x="749.4" y="533.04" font-size="5.8" fill="#333" textLength="4.8" lengthAdjust="spacingAndGlyphs" text-anchor="end">02</text>
<line x1="760.6" y1="592" x2="773.5" y2="592" stroke="#444" stroke-width="1"/>
<line x1="773.5" y1="592" x2="773.5" y2="600" stroke="#555" stroke-width="1"/>
<line x1="865.6" y1="592" x2="865.6" y2="600" stroke="#555" stroke-width="1"/>
<line x1="865.6" y1="592" x2="878.5" y2="592" stroke="#444" stroke-width="1"/>
<line x1="773.5" y1="595.6" x2="865.6" y2="595.6" stroke="#222" stroke-width="1.5"/>
<line x1="750.6" y1="600.2" x2="888.5" y2="600.2" stroke="#333" stroke-width="1.2"/>
<rect x="755.6" y="600.8" width="128.2" height="18.8" fill="#555557" stroke="none" stroke-width="1"/>
<rect x="888.8" y="543" width="8.4" height="57.2" fill="#9b9b9d" stroke="none" stroke-width="1"/>
<line x1="888.5" y1="543" x2="888.5" y2="600.2" stroke="#222" stroke-width="1.2"/>
<path d="M891,569.74 L894.6,569.74 L892.8,572.44 Z" fill="#f4f4f4" stroke="#222" stroke-width="1.15"/>
<rect x="897.8" y="537" width="15" height="169.4" fill="#dba614" stroke="#1c1608" stroke-width="1.6"/>
<line x1="897.4" y1="601" x2="897.4" y2="706" stroke="#333" stroke-width="0.8" stroke-dasharray="2.4 1.4"/>
<path d="M913.6,638.6 L915.8,638.4 L917,640.4" fill="none" stroke="#222" stroke-width="0.9"/>
<circle cx="917.3" cy="641.2" r="0.9" fill="#222" stroke="#222" stroke-width="0.5"/>
<line x1="728.6" y1="644.8" x2="888" y2="644.8" stroke="#888" stroke-width="1.2"/>
<circle cx="725" cy="644.8" r="3.3" fill="#fff" stroke="#777" stroke-width="0.9"/>
<circle cx="725" cy="644.8" r="1.8" fill="none" stroke="#999" stroke-width="0.7"/>
<rect x="888.4" y="641.4" width="6.4" height="6.8" fill="#fff" stroke="#888" stroke-width="0.9"/>
<circle cx="891.6" cy="644.8" r="1.9" fill="none" stroke="#999" stroke-width="0.7"/>
<path d="M806,620.8 L810,620.8 L808,623.8 Z" fill="#f4f4f4" stroke="#222" stroke-width="1.15"/>
<path d="M806,668.6 L810,668.6 L808,665.6 Z" fill="#f4f4f4" stroke="#222" stroke-width="1.15"/>
<line x1="718.5" y1="686.6" x2="897" y2="686.6" stroke="#111" stroke-width="1.3"/>
<line x1="718.5" y1="688.7" x2="897" y2="688.7" stroke="#111" stroke-width="1.1"/>
<line x1="718.5" y1="696.4" x2="897" y2="696.4" stroke="#555" stroke-width="1.2"/>
<line x1="718.5" y1="773.9" x2="909.4" y2="773.9" stroke="#777" stroke-width="1.1"/>
<line x1="909.4" y1="707" x2="909.4" y2="773.9" stroke="#777" stroke-width="1.1"/>
<line x1="707.4" y1="780.4" x2="718.5" y2="780.4" stroke="#777" stroke-width="1"/>
<rect x="728.2" y="710.5" width="34.3" height="49.2" fill="none" stroke="#555" stroke-width="0.9"/>
<line x1="728.2" y1="710.5" x2="762.5" y2="759.7" stroke="#555" stroke-width="0.8"/>
<line x1="728.2" y1="759.7" x2="762.5" y2="710.5" stroke="#555" stroke-width="0.8"/>
<rect x="772.7" y="710.5" width="34.1" height="49.2" fill="none" stroke="#555" stroke-width="0.9"/>
<line x1="772.7" y1="710.5" x2="806.8" y2="759.7" stroke="#555" stroke-width="0.8"/>
<line x1="772.7" y1="759.7" x2="806.8" y2="710.5" stroke="#555" stroke-width="0.8"/>
<rect x="817" y="710.5" width="34.5" height="49.2" fill="none" stroke="#555" stroke-width="0.9"/>
<line x1="817" y1="710.5" x2="851.5" y2="759.7" stroke="#555" stroke-width="0.8"/>
<line x1="817" y1="759.7" x2="851.5" y2="710.5" stroke="#555" stroke-width="0.8"/>
<rect x="861.2" y="710.5" width="34.4" height="49.2" fill="none" stroke="#555" stroke-width="0.9"/>
<line x1="861.2" y1="710.5" x2="895.6" y2="759.7" stroke="#555" stroke-width="0.8"/>
<line x1="861.2" y1="759.7" x2="895.6" y2="710.5" stroke="#555" stroke-width="0.8"/>
<rect x="799.4" y="340.8" width="41" height="13" fill="#fff" stroke="none" stroke-width="1"/>
<rect x="800.2" y="341.2" width="1.9" height="12.2" fill="#cf2a2e" stroke="none" stroke-width="1"/>
<rect x="804.4" y="341.2" width="1.9" height="12.2" fill="#cf2a2e" stroke="none" stroke-width="1"/>
<path d="M800.2,343.6 L798.9,344.4 M804.4,343.6 L803.1,344.4" fill="none" stroke="#cf2a2e" stroke-width="1"/>
<text x="807.2" y="346.6" font-size="6.6" fill="#555" textLength="23.6" lengthAdjust="spacingAndGlyphs">SOLARIUM</text>
<text x="807.2" y="353.4" font-size="7" fill="#111" font-weight="bold" textLength="32.4" lengthAdjust="spacingAndGlyphs">S=29,10 m2</text>
</g>
</svg>
</body></html>
